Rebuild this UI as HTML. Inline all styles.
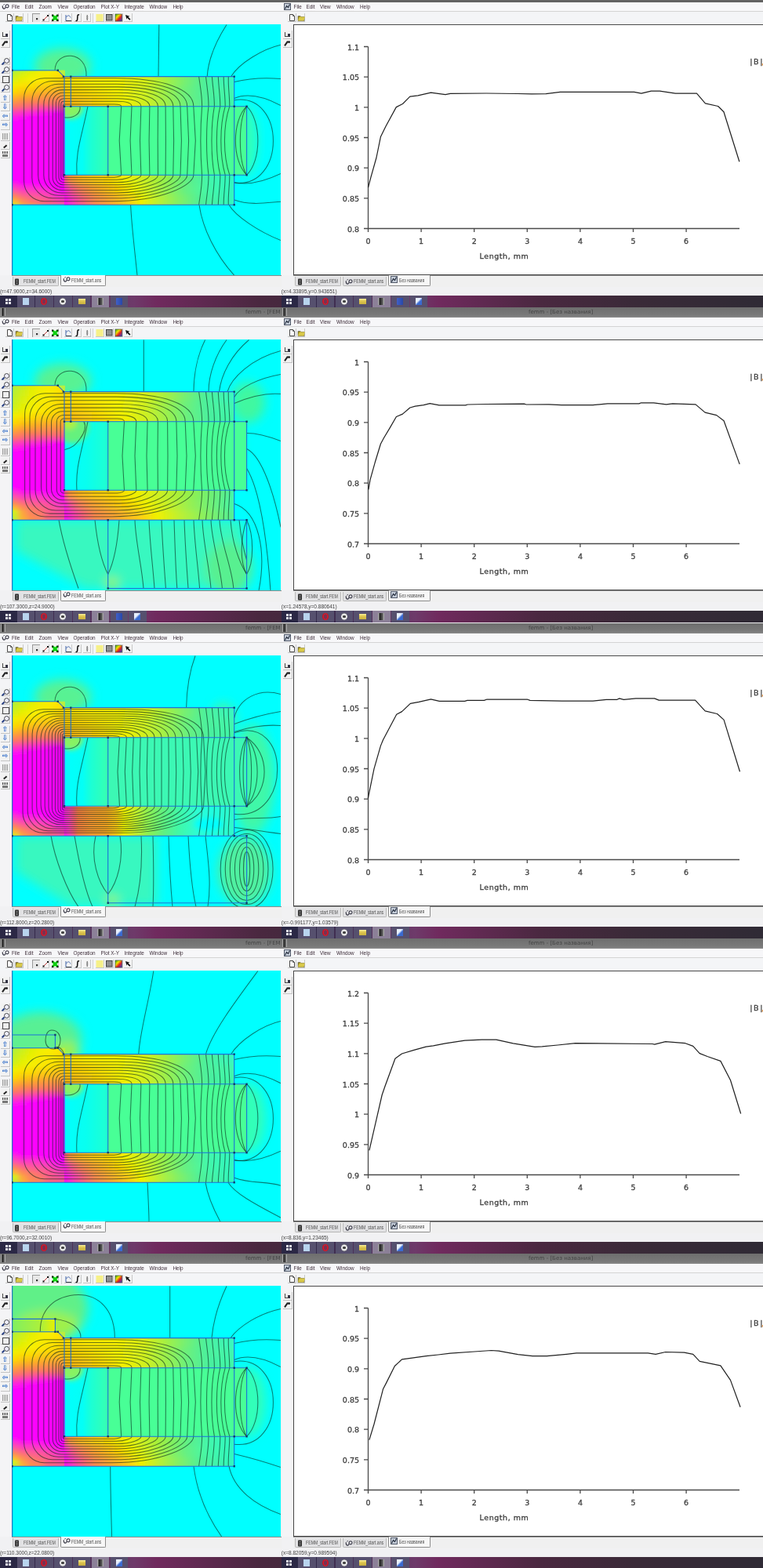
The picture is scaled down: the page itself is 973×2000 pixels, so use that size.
<!DOCTYPE html><html><head><meta charset="utf-8"><title>femm</title><style>*{box-sizing:border-box}
html,body{margin:0;padding:0}
body{width:973px;height:2000px;overflow:hidden;position:relative;background:#f1f1f3;font-family:"Liberation Sans","DejaVu Sans",sans-serif}
.pn{position:absolute;left:0;width:973px;height:392px}
.pn>*{position:absolute}
.tt{left:0;width:973px;height:12.5px;background:linear-gradient(#6e6e6e,#7a7a7a 80%,#8a8a8a)}
.ttx{height:12.5px;font:7px/12.5px "DejaVu Sans",sans-serif;color:#444;white-space:nowrap}
.tti{width:6px;height:10px;background:linear-gradient(90deg,#ddd,#222 30%,#555 70%,#ccc)}
.mb{top:2.5px;height:12px;background:#f7f7f9;border-bottom:1.3px solid #d4d4d4}
.mb span{position:absolute;top:0;font:6.4px/11.5px "Liberation Sans",sans-serif;color:#3c2c38;white-space:nowrap}
.mb .mi0{left:2px;top:1.5px;width:10px;height:9px}.mb svg,.tab svg{display:block}
.mb .mi1{left:3px;top:1.5px;width:9px;height:9px}
.tl{top:14.5px;height:16px;background:#f4f5f7}
.tl .bt{position:absolute;top:2px;width:10.5px;height:11.5px;border:1px solid #c8c8c8;border-width:0 1px 1px 0;background:#f4f4f4}
.tl .sep{position:absolute;top:2px;width:1px;height:12px;background:#d0d0d0}
.tl .bt svg{display:block}
.bt-sel{background:#e8e8e8 !important;border-width:1px 0 0 1px !important;border-color:#999 !important}
.vt{top:30.5px;height:320.5px;background:#f4f4f6}
.vt .vb{position:absolute;left:1px;width:11.5px;height:10.5px;border:1px solid #c4c4c4;border-width:0 1px 1px 0;background:#f2f2f2}
.vb:after,.vb:before{content:"";position:absolute}
.vb-v1:after{left:2px;top:2px;width:4px;height:5px;border-left:1px solid #444;border-bottom:1px solid #444}
.vb-v1:before{left:6px;top:4px;width:3px;height:4px;background:#334}
.vb-v2:after{left:3px;top:2px;width:2px;height:7px;background:#222;transform:rotate(35deg)}
.vb-v2:before{left:6px;top:1.5px;width:3px;height:3px;background:#222;border-radius:50%}
.vb-zin:after,.vb-zout:after,.vb-zwin:after{left:4px;top:1px;width:5px;height:5px;border:1.2px solid #444;border-radius:50%;background:#eef}
.vb-zin:before,.vb-zout:before,.vb-zwin:before{left:1px;top:7px;width:4px;height:1.8px;background:#223a80;transform:rotate(-45deg)}
.vb-zfit:after{left:2px;top:1.5px;width:7px;height:7px;border:1.2px solid #444;background:#eee}
.vb-up:after,.vb-dn:after,.vb-lf:after,.vb-rt:after{left:0;top:-1px;width:11px;text-align:center;font:bold 9px/11px "DejaVu Sans",sans-serif;color:#2a68c8}
.vb-up:after{content:"\21E7"}.vb-dn:after{content:"\21E9"}.vb-lf:after{content:"\21E6"}.vb-rt:after{content:"\21E8"}
.vb-grid:after{left:2px;top:1px;width:7px;height:8px;background:repeating-linear-gradient(90deg,#999 0 1px,transparent 1px 2px)}
.vb-pt:after{left:3px;top:5px;width:5px;height:1.5px;background:#222;transform:rotate(-40deg)}
.vb-cfg:after{left:2px;top:1.5px;width:7px;height:3px;background:repeating-linear-gradient(90deg,#444 0 1px,transparent 1px 2px)}
.vb-cfg:before{left:2px;top:5.5px;width:7px;height:3px;background:#777}
.fp{left:15px;top:30.5px;width:342.8px;height:320.5px;overflow:hidden}
.fp svg{display:block}
.gp{left:373.5px;top:30.5px;width:599.5px;height:320.3px;background:#fff;border-left:1.6px solid #454545;border-top:1.5px solid #4a4a4a;border-bottom:1.3px solid #454545;overflow:hidden}
.gp svg{position:absolute;left:-1px;top:-1px;display:block}
.gr text{font:9.5px "DejaVu Sans",sans-serif;fill:#404040;stroke:#404040;stroke-width:0.3px}
.gr .ax{fill:none;stroke:#4a4a4a;stroke-width:1.3}
.gr .cv{fill:none;stroke:#202020;stroke-width:1.2;stroke-linejoin:round}
.tabbar{top:351.2px;height:15px;background:#f0f0f0;border-top:1.4px solid #8c8c8c}
.tab{position:absolute;top:1px;height:12px;background:#e2e2e4;border:1px solid #b8b8b8;border-top:0;border-radius:0 0 2px 2px;font:6.5px/11px "Liberation Sans",sans-serif;color:#505050;white-space:nowrap;padding-left:13px}
.tab span{display:inline-block;transform:scaleX(.8);transform-origin:0 0}
.tab.act{background:#f7f7f7;top:-1.4px;height:14.5px;border-color:#8c8c8c;padding-top:1.5px}
.tab b{position:absolute;left:1.5px;top:1.5px;width:7px;height:8px}



.st{top:366px;height:11px;font:6.5px/12px "Liberation Sans",sans-serif;color:#404040;white-space:nowrap}
.tb{height:15px;background:linear-gradient(90deg,#2b2845 0,#2b2845 21px,#6e3a6a 170px,#702a5e 200px,#4a2840 330px,#3a2a38 450px,#2f2a35)}
.tbs{left:0;width:21px;height:15px;background:#2b2845}
.tbs i{position:absolute;width:3px;height:3px;background:#e8e8f0}
.tbs i:nth-child(1){left:6.5px;top:4px}.tbs i:nth-child(2){left:10.5px;top:4px}.tbs i:nth-child(3){left:6.5px;top:8px}.tbs i:nth-child(4){left:10.5px;top:8px}
.tbb{position:absolute;width:22.5px;height:15px;background:#56506e}
.tbb.hl{background:#8c8098}
.tbb b{position:absolute;left:7px;top:3px;width:8px;height:9px}
.ic-file{background:#b8d4ee}
.ic-opera{border-radius:50%;background:radial-gradient(ellipse 40% 55% at 50% 50%,#7a3050 60%,#e02030 68%,#c81020)}
.ic-media{border-radius:50%;background:radial-gradient(circle,#444 28%,#e8e8e8 33%,#e8e8e8 62%,#888 70%)}
.ic-folder{background:linear-gradient(#f8f0a0,#e0c850 40%,#c8b040);height:7px !important;top:4px !important;width:9px !important}
.ic-femm{background:linear-gradient(90deg,#ccc,#222 30%,#555 70%,#bbb)}
.ic-vs{background:linear-gradient(90deg,#4060c8,#2848a8);border-radius:1px}
.ic-doc{background:linear-gradient(135deg,#e8f0ff 40%,#3a6ad0 60%)}
</style></head><body><div class="pn" style="top:0px"><div class="tt" style="top:-10px;background:#626262"></div><div class="mb" style="left:0;width:358.5px"><span class="mi0"><svg width="10" height="9" viewBox="0 0 10 9"><path d="M1.2 3.2C1 6.5 3 8.2 4.6 6.4C5.6 5.2 4.4 3.2 5.8 2.2C7.2 1.2 9.2 2 9 4C8.8 6 6.6 6.3 6 5" fill="none" stroke="#3a3a48" stroke-width="1.2"/><path d="M2.6 2.4L3.6 1" stroke="#3a3a48" stroke-width="1"/></svg></span><span style="left:15px">File</span><span style="left:31.5px">Edit</span><span style="left:49.5px">Zoom</span><span style="left:73.5px">View</span><span style="left:93.5px">Operation</span><span style="left:128.5px">Plot X-Y</span><span style="left:158.5px">Integrate</span><span style="left:190.5px">Window</span><span style="left:220.5px">Help</span></div><div class="mb" style="left:358.5px;width:614.5px"><span class="mi1"><svg width="9" height="9" viewBox="0 0 9 9"><rect x="0.5" y="0.5" width="8" height="8" fill="#c8d0dc" stroke="#505868"/><path d="M1.5 7.5L3.5 3.5L5.5 5.5L7.5 1.5" fill="none" stroke="#283040" stroke-width="1.2"/></svg></span><span style="left:16px">File</span><span style="left:32px">Edit</span><span style="left:49.5px">View</span><span style="left:70.5px">Window</span><span style="left:100.5px">Help</span></div><div class="tl" style="left:0;width:358.5px"><b class="bt bt-new" style="left:7px"><svg width="10.5" height="11.5" viewBox="0 0 10.5 11.5"><path d="M2.5 1.5h4l2 2v6h-6z" fill="#fff" stroke="#333" stroke-width="0.9"/><path d="M6.5 1.5v2h2" fill="none" stroke="#333" stroke-width="0.7"/></svg></b><b class="bt bt-open" style="left:19px"><svg width="10.5" height="11.5" viewBox="0 0 10.5 11.5"><path d="M1 3.5h3l1 1h4v5H1z" fill="#a09018" stroke="#555" stroke-width="0.6"/><path d="M2 6l1.5-1.5h6.5L8.5 9.5H1z" fill="#d8c848"/></svg></b><b class="bt bt-sel" style="left:40.5px"><svg width="10.5" height="11.5" viewBox="0 0 10.5 11.5"><rect x="4" y="5" width="2.2" height="2.2" fill="#333"/></svg></b><b class="bt bt-line" style="left:52.5px"><svg width="10.5" height="11.5" viewBox="0 0 10.5 11.5"><path d="M2.5 8.5L8 3" stroke="#c04040" stroke-width="1"/><rect x="1.5" y="7.5" width="2" height="2" fill="#111"/><rect x="7" y="2" width="2" height="2" fill="#111"/></svg></b><b class="bt bt-gx" style="left:64.5px"><svg width="10.5" height="11.5" viewBox="0 0 10.5 11.5"><path d="M2 2.5L8.5 9M8.5 2.5L2 9" stroke="#10d010" stroke-width="3"/><rect x="1" y="1.5" width="2" height="2" fill="#111"/><rect x="7.5" y="1.5" width="2" height="2" fill="#111"/><rect x="1" y="8" width="2" height="2" fill="#111"/><rect x="7.5" y="8" width="2" height="2" fill="#111"/></svg></b><b class="bt bt-c1" style="left:81.5px"><svg width="10.5" height="11.5" viewBox="0 0 10.5 11.5"><path d="M2 2v7.5h7" fill="none" stroke="#2850a0" stroke-width="0.9"/><path d="M2.5 5c2-3 4-3 5.5 0.5" fill="none" stroke="#2850a0" stroke-width="0.8"/><path d="M2 9.5h7" stroke="#333" stroke-width="0.8"/></svg></b><b class="bt bt-int" style="left:93.5px"><svg width="10.5" height="11.5" viewBox="0 0 10.5 11.5"><path d="M7 2.3C6 1.4 5 2 4.9 3.5L4.6 8C4.5 9.5 3.5 10 2.6 9.2" fill="none" stroke="#111" stroke-width="1.5"/></svg></b><b class="bt bt-c3" style="left:105.5px"><svg width="10.5" height="11.5" viewBox="0 0 10.5 11.5"><path d="M5.2 2v7" stroke="#555" stroke-width="1"/><path d="M4 4.5h2.4M4 6.5h2.4" stroke="#888" stroke-width="0.8"/></svg></b><b class="bt bt-yel" style="left:122px"><svg width="10.5" height="11.5" viewBox="0 0 10.5 11.5"><rect x="0.5" y="1" width="9" height="9" fill="#f6f088"/></svg></b><b class="bt bt-gry" style="left:134px"><svg width="10.5" height="11.5" viewBox="0 0 10.5 11.5"><rect x="1.5" y="1.5" width="7.5" height="7.5" fill="#9a9a9a" stroke="#333" stroke-width="0.9"/><path d="M2.5 3.5h5.5M2.5 5.5h5.5M2.5 7.5h5.5" stroke="#777" stroke-width="0.6"/></svg></b><b class="bt bt-rbw" style="left:146px"><svg width="10.5" height="11.5" viewBox="0 0 10.5 11.5"><defs><linearGradient id="rbwg" x1="0" y1="0" x2="1" y2="1"><stop offset="0" stop-color="#20b020"/><stop offset="0.35" stop-color="#f0e000"/><stop offset="0.6" stop-color="#e02020"/><stop offset="1" stop-color="#2040e0"/></linearGradient></defs><rect x="1" y="1" width="8.5" height="9" fill="url(#rbwg)" stroke="#333" stroke-width="0.6"/></svg></b><b class="bt bt-arr" style="left:158px"><svg width="10.5" height="11.5" viewBox="0 0 10.5 11.5"><path d="M2 2l5.5 1.8-2 0.6 3 3-1.3 1.3-3-3-0.6 2z" fill="#111"/></svg></b><i class="sep" style="left:35px"></i><i class="sep" style="left:78px"></i><i class="sep" style="left:118px"></i></div><div class="tl" style="left:358.5px;width:614.5px"><b class="bt" style="left:8.5px"><svg width="10.5" height="11.5" viewBox="0 0 10.5 11.5"><path d="M2.5 1.5h4l2 2v6h-6z" fill="#fff" stroke="#333" stroke-width="0.9"/><path d="M6.5 1.5v2h2" fill="none" stroke="#333" stroke-width="0.7"/></svg></b><b class="bt" style="left:20px"><svg width="10.5" height="11.5" viewBox="0 0 10.5 11.5"><path d="M1 3.5h3l1 1h4v5H1z" fill="#a09018" stroke="#555" stroke-width="0.6"/><path d="M2 6l1.5-1.5h6.5L8.5 9.5H1z" fill="#d8c848"/></svg></b></div><div class="vt" style="left:0;width:15px"><b class="vb vb-v1" style="top:8.5px"></b><b class="vb vb-v2" style="top:19.5px"></b><b class="vb vb-zin" style="top:42px"></b><b class="vb vb-zout" style="top:53px"></b><b class="vb vb-zfit" style="top:64.5px"></b><b class="vb vb-zwin" style="top:76.5px"></b><b class="vb vb-up" style="top:90px"></b><b class="vb vb-dn" style="top:101px"></b><b class="vb vb-lf" style="top:113px"></b><b class="vb vb-rt" style="top:124.5px"></b><b class="vb vb-grid" style="top:138.5px"></b><b class="vb vb-pt" style="top:150px"></b><b class="vb vb-cfg" style="top:161px"></b></div><div class="vt" style="left:358.5px;width:15.5px"><b class="vb vb-v1" style="top:8.5px;left:2.5px"></b><b class="vb vb-v2" style="top:19.5px;left:2.5px"></b></div><div class="fp"><svg width="343.5" height="320.5" viewBox="15 30.5 343.5 320.5"><defs><filter id="bl0" x="-50%" y="-50%" width="200%" height="200%"><feGaussianBlur stdDeviation="7"/></filter><filter id="bm0" x="-50%" y="-50%" width="200%" height="200%"><feGaussianBlur stdDeviation="12"/></filter><filter id="bs0" x="-50%" y="-50%" width="200%" height="200%"><feGaussianBlur stdDeviation="3"/></filter><linearGradient id="lb0_0" gradientUnits="userSpaceOnUse" x1="0" y1="89.3" x2="0" y2="260.7"><stop offset="0.0000" stop-color="#b0f038"/><stop offset="0.0461" stop-color="#d0f018"/><stop offset="0.0998" stop-color="#f0f000"/><stop offset="0.1604" stop-color="#ffd800"/><stop offset="0.2141" stop-color="#ffa830"/><stop offset="0.2655" stop-color="#ff7860"/><stop offset="0.3057" stop-color="#ff48a8"/><stop offset="0.3501" stop-color="#ff18e8"/><stop offset="0.3845" stop-color="#ff00ff"/><stop offset="0.8151" stop-color="#ff00ff"/><stop offset="0.8559" stop-color="#ff30d0"/><stop offset="0.8967" stop-color="#ff58a0"/><stop offset="0.9376" stop-color="#ff8858"/><stop offset="0.9726" stop-color="#ffb830"/><stop offset="1.0000" stop-color="#d8f018"/><stop offset="1.0000" stop-color="#b8f038"/></linearGradient><linearGradient id="lb0_1" gradientUnits="userSpaceOnUse" x1="0" y1="89.3" x2="0" y2="260.7"><stop offset="0.0000" stop-color="#c8f020"/><stop offset="0.0525" stop-color="#e8f000"/><stop offset="0.1132" stop-color="#ffe000"/><stop offset="0.1669" stop-color="#ffc010"/><stop offset="0.2205" stop-color="#ff9040"/><stop offset="0.2707" stop-color="#ff6878"/><stop offset="0.3104" stop-color="#ff38c0"/><stop offset="0.3501" stop-color="#ff10f0"/><stop offset="0.3798" stop-color="#ff00ff"/><stop offset="0.8326" stop-color="#ff00ff"/><stop offset="0.8792" stop-color="#ff30d0"/><stop offset="0.9201" stop-color="#ff5898"/><stop offset="0.9609" stop-color="#ff8060"/><stop offset="1.0000" stop-color="#ffa040"/><stop offset="1.0000" stop-color="#ffb030"/></linearGradient><linearGradient id="lb0_2" gradientUnits="userSpaceOnUse" x1="0" y1="89.3" x2="0" y2="260.7"><stop offset="0.0000" stop-color="#e0f000"/><stop offset="0.0665" stop-color="#f8f000"/><stop offset="0.1266" stop-color="#ffd800"/><stop offset="0.1803" stop-color="#ffb020"/><stop offset="0.2340" stop-color="#ff8050"/><stop offset="0.2760" stop-color="#ff5890"/><stop offset="0.3151" stop-color="#ff28d8"/><stop offset="0.3501" stop-color="#ff00ff"/><stop offset="0.8326" stop-color="#ff00ff"/><stop offset="0.8792" stop-color="#ff30d0"/><stop offset="0.9317" stop-color="#ff5898"/><stop offset="0.9784" stop-color="#ff7868"/><stop offset="1.0000" stop-color="#ff9048"/></linearGradient><linearGradient id="lb0_3" gradientUnits="userSpaceOnUse" x1="0" y1="89.3" x2="0" y2="260.7"><stop offset="0.0000" stop-color="#f0f000"/><stop offset="0.0729" stop-color="#ffe800"/><stop offset="0.1336" stop-color="#ffc810"/><stop offset="0.1867" stop-color="#ffa030"/><stop offset="0.2410" stop-color="#ff7860"/><stop offset="0.2806" stop-color="#ff48a8"/><stop offset="0.3203" stop-color="#ff18e8"/><stop offset="0.3501" stop-color="#ff00ff"/><stop offset="0.8384" stop-color="#ff00ff"/><stop offset="0.8851" stop-color="#ff30d0"/><stop offset="0.9434" stop-color="#ff5898"/><stop offset="0.9901" stop-color="#ff7070"/><stop offset="1.0000" stop-color="#ff8858"/></linearGradient><linearGradient id="lb0_4" gradientUnits="userSpaceOnUse" x1="0" y1="89.3" x2="0" y2="260.7"><stop offset="0.0000" stop-color="#f8f000"/><stop offset="0.0799" stop-color="#ffe000"/><stop offset="0.1400" stop-color="#ffc010"/><stop offset="0.1937" stop-color="#ff9840"/><stop offset="0.2474" stop-color="#ff7068"/><stop offset="0.2853" stop-color="#ff40b8"/><stop offset="0.3203" stop-color="#ff10f0"/><stop offset="0.3448" stop-color="#ff00ff"/><stop offset="0.8559" stop-color="#ff00ff"/><stop offset="0.9026" stop-color="#ff30d0"/><stop offset="0.9551" stop-color="#ff5098"/><stop offset="1.0000" stop-color="#ff6878"/></linearGradient><linearGradient id="lb0_5" gradientUnits="userSpaceOnUse" x1="0" y1="89.3" x2="0" y2="260.7"><stop offset="0.0000" stop-color="#ffe800"/><stop offset="0.0729" stop-color="#ffd800"/><stop offset="0.1400" stop-color="#ffb820"/><stop offset="0.2007" stop-color="#ff9040"/><stop offset="0.2538" stop-color="#ff6878"/><stop offset="0.2905" stop-color="#ff38c8"/><stop offset="0.3203" stop-color="#ff00ff"/><stop offset="0.8734" stop-color="#ff00ff"/><stop offset="0.9201" stop-color="#ff28d8"/><stop offset="0.9726" stop-color="#ff4aa8"/><stop offset="1.0000" stop-color="#ff6080"/></linearGradient><linearGradient id="lb0_6" gradientUnits="userSpaceOnUse" x1="0" y1="89.3" x2="0" y2="260.7"><stop offset="0.0000" stop-color="#ffe000"/><stop offset="0.0729" stop-color="#ffd000"/><stop offset="0.1534" stop-color="#ffb020"/><stop offset="0.2141" stop-color="#ff8850"/><stop offset="0.2608" stop-color="#ff6080"/><stop offset="0.2952" stop-color="#ff30d0"/><stop offset="0.3203" stop-color="#ff00ff"/><stop offset="0.8851" stop-color="#ff00ff"/><stop offset="0.9317" stop-color="#ff28d8"/><stop offset="0.9784" stop-color="#ff40b8"/><stop offset="1.0000" stop-color="#ff5890"/></linearGradient><linearGradient id="ta0_0" gradientUnits="userSpaceOnUse" x1="80.8" y1="0" x2="298.7" y2="0"><stop offset="0.0055" stop-color="#ffd800"/><stop offset="0.1340" stop-color="#ffe800"/><stop offset="0.3176" stop-color="#f8f000"/><stop offset="0.4782" stop-color="#d8f018"/><stop offset="0.5929" stop-color="#a8f040"/><stop offset="0.7077" stop-color="#78f070"/><stop offset="0.8224" stop-color="#50f098"/><stop offset="1.0000" stop-color="#38f8c0"/></linearGradient><linearGradient id="ta0_1" gradientUnits="userSpaceOnUse" x1="80.8" y1="0" x2="298.7" y2="0"><stop offset="0.0055" stop-color="#ffc800"/><stop offset="0.1340" stop-color="#ffd800"/><stop offset="0.3176" stop-color="#f8f000"/><stop offset="0.4782" stop-color="#d0f020"/><stop offset="0.5929" stop-color="#a0f048"/><stop offset="0.7077" stop-color="#70f078"/><stop offset="0.8224" stop-color="#50f098"/><stop offset="1.0000" stop-color="#40f8b0"/></linearGradient><linearGradient id="ta0_2" gradientUnits="userSpaceOnUse" x1="80.8" y1="0" x2="298.7" y2="0"><stop offset="0.0055" stop-color="#ffb010"/><stop offset="0.0881" stop-color="#ffc010"/><stop offset="0.2258" stop-color="#ffd800"/><stop offset="0.3635" stop-color="#f0f000"/><stop offset="0.5011" stop-color="#c8f028"/><stop offset="0.6159" stop-color="#98f050"/><stop offset="0.7306" stop-color="#68f080"/><stop offset="0.8683" stop-color="#48f0a0"/><stop offset="1.0000" stop-color="#40f8a8"/></linearGradient><linearGradient id="ba0" gradientUnits="userSpaceOnUse" x1="82" y1="0" x2="298.7" y2="0"><stop offset="0.0000" stop-color="#ff20e0"/><stop offset="0.0231" stop-color="#ff40b8"/><stop offset="0.0554" stop-color="#ff6080"/><stop offset="0.0969" stop-color="#ff8050"/><stop offset="0.1523" stop-color="#ffa030"/><stop offset="0.1984" stop-color="#ffb820"/><stop offset="0.2446" stop-color="#ffcc10"/><stop offset="0.3138" stop-color="#ffe000"/><stop offset="0.3830" stop-color="#f0f000"/><stop offset="0.4338" stop-color="#d0f020"/><stop offset="0.5215" stop-color="#a8f038"/><stop offset="0.6138" stop-color="#80f060"/><stop offset="0.7291" stop-color="#58f090"/><stop offset="0.8676" stop-color="#40f8b0"/><stop offset="1.0000" stop-color="#30f8c0"/></linearGradient><linearGradient id="bs0_0" gradientUnits="userSpaceOnUse" x1="82" y1="0" x2="298.7" y2="0"><stop offset="0.0000" stop-color="#ff50a0"/><stop offset="0.0277" stop-color="#ff9040"/><stop offset="0.0831" stop-color="#ffb020"/><stop offset="0.1754" stop-color="#ffc810"/><stop offset="0.2677" stop-color="#ffd800"/><stop offset="0.3599" stop-color="#f0f000"/><stop offset="0.4522" stop-color="#d0f020"/><stop offset="0.5445" stop-color="#a8f038"/><stop offset="0.6368" stop-color="#80f060"/><stop offset="0.7522" stop-color="#58f090"/><stop offset="0.8676" stop-color="#40f8b0"/><stop offset="1.0000" stop-color="#30f8c0"/></linearGradient><linearGradient id="bs0_1" gradientUnits="userSpaceOnUse" x1="82" y1="0" x2="298.7" y2="0"><stop offset="0.0000" stop-color="#ff20e0"/><stop offset="0.0369" stop-color="#ff5098"/><stop offset="0.0831" stop-color="#ff7860"/><stop offset="0.1523" stop-color="#ff9838"/><stop offset="0.2215" stop-color="#ffb020"/><stop offset="0.3138" stop-color="#ffd000"/><stop offset="0.4061" stop-color="#f0f000"/><stop offset="0.4984" stop-color="#c8f028"/><stop offset="0.5907" stop-color="#98f050"/><stop offset="0.7060" stop-color="#68f080"/><stop offset="0.8445" stop-color="#44f8a8"/><stop offset="1.0000" stop-color="#30f8c0"/></linearGradient><linearGradient id="bs0_2" gradientUnits="userSpaceOnUse" x1="82" y1="0" x2="298.7" y2="0"><stop offset="0.0000" stop-color="#ff10f0"/><stop offset="0.0461" stop-color="#ff38c0"/><stop offset="0.1061" stop-color="#ff6080"/><stop offset="0.1754" stop-color="#ff8850"/><stop offset="0.2677" stop-color="#ffa830"/><stop offset="0.3599" stop-color="#ffc818"/><stop offset="0.4522" stop-color="#f0f000"/><stop offset="0.5445" stop-color="#c0f030"/><stop offset="0.6599" stop-color="#88f060"/><stop offset="0.7983" stop-color="#50f098"/><stop offset="1.0000" stop-color="#30f8c0"/></linearGradient><clipPath id="cba0"><rect x="82" y="222.7" width="216.7" height="38"/></clipPath><filter id="hb0" x="-20%" y="-20%" width="140%" height="140%"><feGaussianBlur stdDeviation="3.5 0"/></filter><filter id="vb0" x="-20%" y="-50%" width="140%" height="200%"><feGaussianBlur stdDeviation="0 3"/></filter><clipPath id="clb0"><rect x="15.5" y="89.3" width="67.1" height="171.4"/></clipPath><clipPath id="cta0"><rect x="80.8" y="97.1" width="217.9" height="38.1"/></clipPath><clipPath id="cvc0"><rect x="82" y="135.2" width="232.6" height="87.5"/></clipPath><linearGradient id="cv0" gradientUnits="userSpaceOnUse" x1="82" y1="0" x2="137.7" y2="0"><stop offset="0" stop-color="#00ffff"/><stop offset="0.42" stop-color="#04fff6"/><stop offset="0.62" stop-color="#1cffd4"/><stop offset="1" stop-color="#38ffb0"/></linearGradient></defs><rect x="0" y="0" width="400" height="400" fill="#00ffff"/><g filter="url(#bl0)"><ellipse cx="80" cy="83.3" rx="36" ry="22" fill="#68f080" opacity="0.85"/><rect x="118" y="141.2" width="190" height="75.5" fill="#40ffa8"/><ellipse cx="315" cy="178.9" rx="13" ry="44" fill="#38ffb0" opacity="0.9"/></g><rect x="82" y="135.2" width="55.7" height="87.5" fill="url(#cv0)"/><rect x="137.7" y="135.2" width="176.9" height="87.5" fill="#48ff96"/><g clip-path="url(#cvc0)"><g filter="url(#bs0)"><ellipse cx="90" cy="137.2" rx="16" ry="14" fill="#a0f048" opacity="0.85"/></g></g><g clip-path="url(#clb0)"><g filter="url(#hb0)"><rect x="3.5" y="89.3" width="20.3" height="171.4" fill="url(#lb0_0)"/><rect x="23.5" y="89.3" width="11.3" height="171.4" fill="url(#lb0_1)"/><rect x="34.5" y="89.3" width="11.3" height="171.4" fill="url(#lb0_2)"/><rect x="45.5" y="89.3" width="11.3" height="171.4" fill="url(#lb0_3)"/><rect x="56.5" y="89.3" width="11.3" height="171.4" fill="url(#lb0_4)"/><rect x="67.5" y="89.3" width="9.3" height="171.4" fill="url(#lb0_5)"/><rect x="76.5" y="89.3" width="17.8" height="171.4" fill="url(#lb0_6)"/></g></g><path d="M73.8 89.3L82.6 89.3L82.6 96.6Z" fill="#b8f040"/><g clip-path="url(#cba0)"><g filter="url(#vb0)"><rect x="82" y="214.7" width="216.7" height="20.3" fill="url(#bs0_0)"/><rect x="82" y="234.7" width="216.7" height="13.3" fill="url(#bs0_1)"/><rect x="82" y="247.7" width="216.7" height="21.3" fill="url(#bs0_2)"/></g></g><g clip-path="url(#cta0)"><g filter="url(#vb0)"><rect x="80.8" y="89.1" width="217.9" height="21.2" fill="url(#ta0_0)"/><rect x="80.8" y="110" width="217.9" height="13.3" fill="url(#ta0_1)"/><rect x="80.8" y="123" width="217.9" height="20.5" fill="url(#ta0_2)"/></g></g><g fill="none" stroke="#06261a" stroke-opacity="0.6" stroke-width="1.05"><path d="M152.2 178.9L154.7 135.2C154.7 133.5 151.3 132.4 145.7 132.4L82.3 132.4C81.2 132.4 80.3 133.3 80.3 134.4L80.3 223.7C80.3 224.8 81.2 225.7 82.3 225.7L145.7 225.7C151.3 225.7 154.7 223.8 154.7 222.7Z"/><path d="M166.1 178.9L168 135.2C168 131.2 160.7 128.8 148.8 128.8L81.4 128.8C79.4 128.8 77.8 130.4 77.8 132.4L77.8 225.2C77.8 227.2 79.4 228.8 81.4 228.8L148.5 228.8C160.6 228.8 168 225 168 222.7Z"/><path d="M178.5 178.9L179.9 135.2C179.9 129 168.7 125.2 150.4 125.2L81 125.2C77.7 125.2 75 127.9 75 131.2L75 226.1C75 229.3 77.7 232 81 232L149.8 232C168.4 232 179.9 226.2 179.9 222.7Z"/><path d="M190.1 178.9L190.9 135.2C190.9 126.7 175.9 121.5 151.3 121.5L80.4 121.5C75.4 121.5 71.4 125.5 71.4 130.5L71.4 226.2C71.4 231.2 75.4 235.2 80.4 235.2L150.3 235.2C175.5 235.2 190.9 227.4 190.9 222.7Z"/><path d="M201.2 178.9L201.5 135.2C201.5 124.4 182.5 117.8 151.6 117.8L79.8 117.8C72.8 117.8 67.2 123.4 67.2 130.4L67.2 225.9C67.2 232.9 72.8 238.5 79.8 238.5L150.3 238.5C182 238.5 201.5 228.7 201.5 222.7Z"/><path d="M211.4 178.9L211.1 135.2C211.1 122.1 188.3 114.1 151 114.1L79 114.1C69.7 114.1 62.2 121.6 62.2 130.9L62.2 225.2C62.2 234.5 69.7 242 79 242L149.3 242C187.6 242 211.1 230 211.1 222.7Z"/><path d="M221.6 178.9L220.8 135.2C220.8 119.8 194 110.4 150.4 110.4L78.1 110.4C65.8 110.4 55.8 120.4 55.8 132.7L55.8 223.1C55.8 235.4 65.8 245.4 78.1 245.4L148.4 245.4C193.3 245.4 220.8 231.3 220.8 222.7Z"/><path d="M231.4 178.9L230 135.2C230 117.5 199.4 106.7 149.5 106.7L74.6 106.7C60.2 106.7 48.6 118.3 48.6 132.7L48.6 222.8C48.6 237.2 60.2 248.8 74.6 248.8L147.1 248.8C198.5 248.8 230 232.6 230 222.7Z"/><path d="M240.6 178.9L238.7 135.2C238.7 115.2 204.2 103 147.9 103L66.8 103C52.4 103 40.8 114.6 40.8 129L40.8 226.3C40.8 240.7 52.4 252.3 66.8 252.3L145.2 252.3C203.1 252.3 238.7 233.9 238.7 222.7Z"/><path d="M249.3 178.9L246.8 135.2C246.8 112.9 208.4 99.3 145.8 99.3L56.5 99.3C42.1 99.3 30.5 110.9 30.5 125.3L30.5 230.2C30.5 244.6 42.1 256.2 56.5 256.2L142.8 256.2C207.3 256.2 246.8 235.4 246.8 222.7Z"/><path d="M253.6 97.1C255.6 112.1 257.6 120.2 257.6 135.2C255.6 160.2 255.6 197.7 257.6 222.7C257.6 237.7 255.6 245.7 253.6 260.7"/><path d="M262.5 97.1C264 112.1 266 120.2 266 135.2C262.7 160.2 262.7 197.7 266 222.7C266 237.7 264 245.7 262.5 260.7"/><path d="M270.4 97.1C271.4 112.1 273.4 120.2 273.4 135.2C268.8 160.2 268.8 197.7 273.4 222.7C273.4 237.7 271.4 245.7 270.4 260.7"/><path d="M278.3 97.1C278.8 112.1 280.8 120.2 280.8 135.2C274.9 160.2 274.9 197.7 280.8 222.7C280.8 237.7 278.8 245.7 278.3 260.7"/><path d="M285.2 97.1C285.2 112.1 287.2 120.2 287.2 135.2C280 160.2 280 197.7 287.2 222.7C287.2 237.7 285.2 245.7 285.2 260.7"/><path d="M291.3 97.1C290.8 112.1 292.8 120.2 292.8 135.2C284.3 160.2 284.3 197.7 292.8 222.7C292.8 237.7 290.8 245.7 291.3 260.7"/><path d="M70 89.3C70 63.3 112 63.3 110 97.1"/><path d="M82 149.2C96 151.2 103 143.2 102 135.2"/><path d="M112 135.2C104 175.2 96 192.7 98 222.7"/><path d="M202.8 31L202 97.1"/><path d="M289 31C280 45 266 70 264.2 97.1"/><path d="M358 56.7C335 62 305 80 294.7 97.1"/><path d="M358 100C335 98 315 100 298.7 104"/><path d="M298.7 125C315 118 335 122 358 134"/><path d="M166.6 260.7C168 290 172 320 175 351"/><path d="M254 260.7C258 290 275 325 299 351"/><path d="M292 260.7C300 275 330 295 358 306"/><path d="M298.7 254.4C320 262 340 258 358 256.7"/><path d="M298.7 232C315 236 335 232 358 221"/><path d="M314.6 135.2C333.6 153.2 333.6 204.7 314.6 222.7"/><path d="M314.6 135.2C303.6 153.2 303.6 204.7 314.6 222.7"/><path d="M314.6 135.2C295.6 153.2 295.6 204.7 314.6 222.7"/><path d="M298.7 127.2C365 117.2 365 240.7 298.7 232.7"/></g><path d="M15.5 89.3H73.8M73.8 89.3L80.8 96.3M80.8 97.1H298.7V260.7M82 97.1V222.7M90.3 97.1V135.2M82 135.2H314.6M82 222.7H314.6M15.5 260.7H298.7M137.7 135.2V222.7M314.6 135.2V222.7" fill="none" stroke="#1c70d8" stroke-width="1.1"/><path d="M15.6 30V352" stroke="#1a70c0" stroke-width="1.3" opacity="0.9"/><path d="M72.6 88.1h2.4v2.4h-2.4ZM79.6 95.9h2.4v2.4h-2.4ZM89.1 95.9h2.4v2.4h-2.4ZM89.1 134h2.4v2.4h-2.4ZM80.8 134h2.4v2.4h-2.4ZM136.5 134h2.4v2.4h-2.4ZM136.5 221.5h2.4v2.4h-2.4ZM80.8 221.5h2.4v2.4h-2.4ZM297.5 95.9h2.4v2.4h-2.4ZM297.5 134h2.4v2.4h-2.4ZM313.4 134h2.4v2.4h-2.4ZM313.4 221.5h2.4v2.4h-2.4ZM297.5 221.5h2.4v2.4h-2.4ZM297.5 259.5h2.4v2.4h-2.4ZM14.3 88.1h2.4v2.4h-2.4ZM14.3 259.5h2.4v2.4h-2.4Z" fill="#103058" opacity="0.85"/></svg></div><div class="gp"><svg class="gr" width="599" height="320" viewBox="374 31 599 320"><path d="M469.5 59.5V291.52H943" class="ax"/><path d="M464 59.5H469.5M464 98.17H469.5M464 136.84H469.5M464 175.51H469.5M464 214.18H469.5M464 252.85H469.5M464 291.52H469.5M469.5 291.52V296.02M537.1 291.52V296.02M604.7 291.52V296.02M672.3 291.52V296.02M739.9 291.52V296.02M807.5 291.52V296.02M875.1 291.52V296.02" class="ax"/><text x="458" y="63.7" text-anchor="end">1.1</text><text x="458" y="102.37" text-anchor="end">1.05</text><text x="458" y="141.04" text-anchor="end">1</text><text x="458" y="179.71" text-anchor="end">0.95</text><text x="458" y="218.38" text-anchor="end">0.9</text><text x="458" y="257.05" text-anchor="end">0.85</text><text x="458" y="295.72" text-anchor="end">0.8</text><text x="469.5" y="310.82" text-anchor="middle">0</text><text x="537.1" y="310.82" text-anchor="middle">1</text><text x="604.7" y="310.82" text-anchor="middle">2</text><text x="672.3" y="310.82" text-anchor="middle">3</text><text x="739.9" y="310.82" text-anchor="middle">4</text><text x="807.5" y="310.82" text-anchor="middle">5</text><text x="875.1" y="310.82" text-anchor="middle">6</text><text x="643" y="329.5" text-anchor="middle" letter-spacing="0.55">Length, mm</text><text x="956.3" y="81.6" letter-spacing="1.6">|B|</text><rect x="971.6" y="81" width="1.6" height="2.6" fill="#e0a060"/><polyline points="469.5,239.1 473,225.8 480,201 485.4,174.6 491.9,161.3 505.3,136.6 513.5,132.5 522.8,123.2 533,121.8 549.5,118.1 568,120.6 574.2,119.3 620,119 660,119.5 678,119.9 696.2,119.6 714.3,117.3 808.7,117.3 817.8,119.1 830.4,116.2 841.3,116.2 861.3,119.1 888.5,119.1 899.4,131.8 915.7,135.5 923,142.7 942.9,206.2" class="cv"/></svg></div><div class="tabbar" style="left:15px;width:343.5px"><div class="tab" style="left:0.5px;width:59px"><b class="ti-fem"><svg width="7" height="9" viewBox="0 0 7 9"><rect x="1" y="0.5" width="5" height="8" rx="1" fill="#2a2a2a"/><path d="M2 2.5h3M2 4.5h3M2 6.5h3" stroke="#999" stroke-width="0.8"/></svg></b><span>FEMM_start.FEM</span></div><div class="tab act" style="left:62px;width:58px"><b class="ti-ans"><svg width="10" height="9" viewBox="0 0 10 9"><path d="M1.2 3.2C1 6.5 3 8.2 4.6 6.4C5.6 5.2 4.4 3.2 5.8 2.2C7.2 1.2 9.2 2 9 4C8.8 6 6.6 6.3 6 5" fill="none" stroke="#3a3a48" stroke-width="1.2"/><path d="M2.6 2.4L3.6 1" stroke="#3a3a48" stroke-width="1"/></svg></b><span>FEMM_start.ans</span></div></div><div class="tabbar" style="left:374px;width:599px"><div class="tab" style="left:2px;width:59px"><b class="ti-fem"><svg width="7" height="9" viewBox="0 0 7 9"><rect x="1" y="0.5" width="5" height="8" rx="1" fill="#2a2a2a"/><path d="M2 2.5h3M2 4.5h3M2 6.5h3" stroke="#999" stroke-width="0.8"/></svg></b><span>FEMM_start.FEM</span></div><div class="tab" style="left:63px;width:56px"><b class="ti-ans"><svg width="10" height="9" viewBox="0 0 10 9"><path d="M1.2 3.2C1 6.5 3 8.2 4.6 6.4C5.6 5.2 4.4 3.2 5.8 2.2C7.2 1.2 9.2 2 9 4C8.8 6 6.6 6.3 6 5" fill="none" stroke="#3a3a48" stroke-width="1.2"/><path d="M2.6 2.4L3.6 1" stroke="#3a3a48" stroke-width="1"/></svg></b><span>FEMM_start.ans</span></div><div class="tab act" style="left:121px;width:54px"><b class="ti-xy"><svg width="9" height="9" viewBox="0 0 9 9"><rect x="0.5" y="0.5" width="8" height="8" fill="#c8d0dc" stroke="#505868"/><path d="M1.5 7.5L3.5 3.5L5.5 5.5L7.5 1.5" fill="none" stroke="#283040" stroke-width="1.2"/></svg></b><span>Без названия</span></div></div><div class="st" style="left:0px">(r=47.9000,z=34.6000)</div><div class="st" style="left:358.8px">(x=4.33895,y=0.943651)</div><div class="tb" style="left:0px;width:358.5px;top:377px"></div><div class="tbs" style="left:0px;top:377px"><i></i><i></i><i></i><i></i></div><div class="tbb" style="left:21.5px;top:377px"><b class="ic-file"></b></div><div class="tbb" style="left:45.3px;top:377px"><b class="ic-opera"></b></div><div class="tbb" style="left:69.1px;top:377px"><b class="ic-media"></b></div><div class="tbb" style="left:92.9px;top:377px"><b class="ic-folder"></b></div><div class="tbb hl" style="left:116.7px;top:377px"><b class="ic-femm"></b></div><div class="tbb" style="left:140.5px;top:377px"><b class="ic-vs"></b></div><div class="tb" style="left:358.5px;width:614.5px;top:377px"></div><div class="tbs" style="left:358.5px;top:377px"><i></i><i></i><i></i><i></i></div><div class="tbb" style="left:380px;top:377px"><b class="ic-file"></b></div><div class="tbb" style="left:403.8px;top:377px"><b class="ic-opera"></b></div><div class="tbb" style="left:427.6px;top:377px"><b class="ic-media"></b></div><div class="tbb" style="left:451.4px;top:377px"><b class="ic-folder"></b></div><div class="tbb hl" style="left:475.2px;top:377px"><b class="ic-femm"></b></div><div class="tbb" style="left:499px;top:377px"><b class="ic-vs"></b></div><div class="tbb" style="left:522.8px;top:377px"><b class="ic-doc"></b></div></div><div class="pn" style="top:402px"><div class="tt" style="top:-10px"></div><div class="ttx" style="left:313px;top:-10px">femm - [FEM</div><div class="ttx" style="left:674px;top:-10px">femm - [Без названия]</div><div class="tti" style="left:1px;top:-9px"></div><div class="tti" style="left:359.5px;top:-9px"></div><div class="mb" style="left:0;width:358.5px"><span class="mi0"><svg width="10" height="9" viewBox="0 0 10 9"><path d="M1.2 3.2C1 6.5 3 8.2 4.6 6.4C5.6 5.2 4.4 3.2 5.8 2.2C7.2 1.2 9.2 2 9 4C8.8 6 6.6 6.3 6 5" fill="none" stroke="#3a3a48" stroke-width="1.2"/><path d="M2.6 2.4L3.6 1" stroke="#3a3a48" stroke-width="1"/></svg></span><span style="left:15px">File</span><span style="left:31.5px">Edit</span><span style="left:49.5px">Zoom</span><span style="left:73.5px">View</span><span style="left:93.5px">Operation</span><span style="left:128.5px">Plot X-Y</span><span style="left:158.5px">Integrate</span><span style="left:190.5px">Window</span><span style="left:220.5px">Help</span></div><div class="mb" style="left:358.5px;width:614.5px"><span class="mi1"><svg width="9" height="9" viewBox="0 0 9 9"><rect x="0.5" y="0.5" width="8" height="8" fill="#c8d0dc" stroke="#505868"/><path d="M1.5 7.5L3.5 3.5L5.5 5.5L7.5 1.5" fill="none" stroke="#283040" stroke-width="1.2"/></svg></span><span style="left:16px">File</span><span style="left:32px">Edit</span><span style="left:49.5px">View</span><span style="left:70.5px">Window</span><span style="left:100.5px">Help</span></div><div class="tl" style="left:0;width:358.5px"><b class="bt bt-new" style="left:7px"><svg width="10.5" height="11.5" viewBox="0 0 10.5 11.5"><path d="M2.5 1.5h4l2 2v6h-6z" fill="#fff" stroke="#333" stroke-width="0.9"/><path d="M6.5 1.5v2h2" fill="none" stroke="#333" stroke-width="0.7"/></svg></b><b class="bt bt-open" style="left:19px"><svg width="10.5" height="11.5" viewBox="0 0 10.5 11.5"><path d="M1 3.5h3l1 1h4v5H1z" fill="#a09018" stroke="#555" stroke-width="0.6"/><path d="M2 6l1.5-1.5h6.5L8.5 9.5H1z" fill="#d8c848"/></svg></b><b class="bt bt-sel" style="left:40.5px"><svg width="10.5" height="11.5" viewBox="0 0 10.5 11.5"><rect x="4" y="5" width="2.2" height="2.2" fill="#333"/></svg></b><b class="bt bt-line" style="left:52.5px"><svg width="10.5" height="11.5" viewBox="0 0 10.5 11.5"><path d="M2.5 8.5L8 3" stroke="#c04040" stroke-width="1"/><rect x="1.5" y="7.5" width="2" height="2" fill="#111"/><rect x="7" y="2" width="2" height="2" fill="#111"/></svg></b><b class="bt bt-gx" style="left:64.5px"><svg width="10.5" height="11.5" viewBox="0 0 10.5 11.5"><path d="M2 2.5L8.5 9M8.5 2.5L2 9" stroke="#10d010" stroke-width="3"/><rect x="1" y="1.5" width="2" height="2" fill="#111"/><rect x="7.5" y="1.5" width="2" height="2" fill="#111"/><rect x="1" y="8" width="2" height="2" fill="#111"/><rect x="7.5" y="8" width="2" height="2" fill="#111"/></svg></b><b class="bt bt-c1" style="left:81.5px"><svg width="10.5" height="11.5" viewBox="0 0 10.5 11.5"><path d="M2 2v7.5h7" fill="none" stroke="#2850a0" stroke-width="0.9"/><path d="M2.5 5c2-3 4-3 5.5 0.5" fill="none" stroke="#2850a0" stroke-width="0.8"/><path d="M2 9.5h7" stroke="#333" stroke-width="0.8"/></svg></b><b class="bt bt-int" style="left:93.5px"><svg width="10.5" height="11.5" viewBox="0 0 10.5 11.5"><path d="M7 2.3C6 1.4 5 2 4.9 3.5L4.6 8C4.5 9.5 3.5 10 2.6 9.2" fill="none" stroke="#111" stroke-width="1.5"/></svg></b><b class="bt bt-c3" style="left:105.5px"><svg width="10.5" height="11.5" viewBox="0 0 10.5 11.5"><path d="M5.2 2v7" stroke="#555" stroke-width="1"/><path d="M4 4.5h2.4M4 6.5h2.4" stroke="#888" stroke-width="0.8"/></svg></b><b class="bt bt-yel" style="left:122px"><svg width="10.5" height="11.5" viewBox="0 0 10.5 11.5"><rect x="0.5" y="1" width="9" height="9" fill="#f6f088"/></svg></b><b class="bt bt-gry" style="left:134px"><svg width="10.5" height="11.5" viewBox="0 0 10.5 11.5"><rect x="1.5" y="1.5" width="7.5" height="7.5" fill="#9a9a9a" stroke="#333" stroke-width="0.9"/><path d="M2.5 3.5h5.5M2.5 5.5h5.5M2.5 7.5h5.5" stroke="#777" stroke-width="0.6"/></svg></b><b class="bt bt-rbw" style="left:146px"><svg width="10.5" height="11.5" viewBox="0 0 10.5 11.5"><defs><linearGradient id="rbwg" x1="0" y1="0" x2="1" y2="1"><stop offset="0" stop-color="#20b020"/><stop offset="0.35" stop-color="#f0e000"/><stop offset="0.6" stop-color="#e02020"/><stop offset="1" stop-color="#2040e0"/></linearGradient></defs><rect x="1" y="1" width="8.5" height="9" fill="url(#rbwg)" stroke="#333" stroke-width="0.6"/></svg></b><b class="bt bt-arr" style="left:158px"><svg width="10.5" height="11.5" viewBox="0 0 10.5 11.5"><path d="M2 2l5.5 1.8-2 0.6 3 3-1.3 1.3-3-3-0.6 2z" fill="#111"/></svg></b><i class="sep" style="left:35px"></i><i class="sep" style="left:78px"></i><i class="sep" style="left:118px"></i></div><div class="tl" style="left:358.5px;width:614.5px"><b class="bt" style="left:8.5px"><svg width="10.5" height="11.5" viewBox="0 0 10.5 11.5"><path d="M2.5 1.5h4l2 2v6h-6z" fill="#fff" stroke="#333" stroke-width="0.9"/><path d="M6.5 1.5v2h2" fill="none" stroke="#333" stroke-width="0.7"/></svg></b><b class="bt" style="left:20px"><svg width="10.5" height="11.5" viewBox="0 0 10.5 11.5"><path d="M1 3.5h3l1 1h4v5H1z" fill="#a09018" stroke="#555" stroke-width="0.6"/><path d="M2 6l1.5-1.5h6.5L8.5 9.5H1z" fill="#d8c848"/></svg></b></div><div class="vt" style="left:0;width:15px"><b class="vb vb-v1" style="top:8.5px"></b><b class="vb vb-v2" style="top:19.5px"></b><b class="vb vb-zin" style="top:42px"></b><b class="vb vb-zout" style="top:53px"></b><b class="vb vb-zfit" style="top:64.5px"></b><b class="vb vb-zwin" style="top:76.5px"></b><b class="vb vb-up" style="top:90px"></b><b class="vb vb-dn" style="top:101px"></b><b class="vb vb-lf" style="top:113px"></b><b class="vb vb-rt" style="top:124.5px"></b><b class="vb vb-grid" style="top:138.5px"></b><b class="vb vb-pt" style="top:150px"></b><b class="vb vb-cfg" style="top:161px"></b></div><div class="vt" style="left:358.5px;width:15.5px"><b class="vb vb-v1" style="top:8.5px;left:2.5px"></b><b class="vb vb-v2" style="top:19.5px;left:2.5px"></b></div><div class="fp"><svg width="343.5" height="320.5" viewBox="15 30.5 343.5 320.5"><defs><filter id="bl1" x="-50%" y="-50%" width="200%" height="200%"><feGaussianBlur stdDeviation="7"/></filter><filter id="bm1" x="-50%" y="-50%" width="200%" height="200%"><feGaussianBlur stdDeviation="12"/></filter><filter id="bs1" x="-50%" y="-50%" width="200%" height="200%"><feGaussianBlur stdDeviation="3"/></filter><linearGradient id="lb1_0" gradientUnits="userSpaceOnUse" x1="0" y1="89.3" x2="0" y2="260.7"><stop offset="0.0000" stop-color="#b0f038"/><stop offset="0.1628" stop-color="#d0f018"/><stop offset="0.2165" stop-color="#f0f000"/><stop offset="0.2771" stop-color="#ffd800"/><stop offset="0.3308" stop-color="#ffa830"/><stop offset="0.3821" stop-color="#ff7860"/><stop offset="0.4224" stop-color="#ff48a8"/><stop offset="0.4667" stop-color="#ff18e8"/><stop offset="0.5012" stop-color="#ff00ff"/><stop offset="0.7509" stop-color="#ff00ff"/><stop offset="0.7917" stop-color="#ff30d0"/><stop offset="0.8326" stop-color="#ff58a0"/><stop offset="0.8734" stop-color="#ff8858"/><stop offset="0.9084" stop-color="#ffb830"/><stop offset="0.9376" stop-color="#d8f018"/><stop offset="1.0000" stop-color="#b8f038"/></linearGradient><linearGradient id="lb1_1" gradientUnits="userSpaceOnUse" x1="0" y1="89.3" x2="0" y2="260.7"><stop offset="0.0000" stop-color="#c8f020"/><stop offset="0.1692" stop-color="#e8f000"/><stop offset="0.2299" stop-color="#ffe000"/><stop offset="0.2835" stop-color="#ffc010"/><stop offset="0.3372" stop-color="#ff9040"/><stop offset="0.3874" stop-color="#ff6878"/><stop offset="0.4271" stop-color="#ff38c0"/><stop offset="0.4667" stop-color="#ff10f0"/><stop offset="0.4965" stop-color="#ff00ff"/><stop offset="0.7684" stop-color="#ff00ff"/><stop offset="0.8151" stop-color="#ff30d0"/><stop offset="0.8559" stop-color="#ff5898"/><stop offset="0.8967" stop-color="#ff8060"/><stop offset="0.9376" stop-color="#ffa040"/><stop offset="1.0000" stop-color="#ffb030"/></linearGradient><linearGradient id="lb1_2" gradientUnits="userSpaceOnUse" x1="0" y1="89.3" x2="0" y2="260.7"><stop offset="0.0000" stop-color="#e0f000"/><stop offset="0.1832" stop-color="#f8f000"/><stop offset="0.2433" stop-color="#ffd800"/><stop offset="0.2970" stop-color="#ffb020"/><stop offset="0.3506" stop-color="#ff8050"/><stop offset="0.3926" stop-color="#ff5890"/><stop offset="0.4317" stop-color="#ff28d8"/><stop offset="0.4667" stop-color="#ff00ff"/><stop offset="0.7684" stop-color="#ff00ff"/><stop offset="0.8151" stop-color="#ff30d0"/><stop offset="0.8676" stop-color="#ff5898"/><stop offset="0.9142" stop-color="#ff7868"/><stop offset="1.0000" stop-color="#ff9048"/></linearGradient><linearGradient id="lb1_3" gradientUnits="userSpaceOnUse" x1="0" y1="89.3" x2="0" y2="260.7"><stop offset="0.0000" stop-color="#f0f000"/><stop offset="0.1896" stop-color="#ffe800"/><stop offset="0.2503" stop-color="#ffc810"/><stop offset="0.3034" stop-color="#ffa030"/><stop offset="0.3576" stop-color="#ff7860"/><stop offset="0.3973" stop-color="#ff48a8"/><stop offset="0.4370" stop-color="#ff18e8"/><stop offset="0.4667" stop-color="#ff00ff"/><stop offset="0.7742" stop-color="#ff00ff"/><stop offset="0.8209" stop-color="#ff30d0"/><stop offset="0.8792" stop-color="#ff5898"/><stop offset="0.9259" stop-color="#ff7070"/><stop offset="1.0000" stop-color="#ff8858"/></linearGradient><linearGradient id="lb1_4" gradientUnits="userSpaceOnUse" x1="0" y1="89.3" x2="0" y2="260.7"><stop offset="0.0000" stop-color="#f8f000"/><stop offset="0.1966" stop-color="#ffe000"/><stop offset="0.2567" stop-color="#ffc010"/><stop offset="0.3104" stop-color="#ff9840"/><stop offset="0.3641" stop-color="#ff7068"/><stop offset="0.4020" stop-color="#ff40b8"/><stop offset="0.4370" stop-color="#ff10f0"/><stop offset="0.4615" stop-color="#ff00ff"/><stop offset="0.7917" stop-color="#ff00ff"/><stop offset="0.8384" stop-color="#ff30d0"/><stop offset="0.8909" stop-color="#ff5098"/><stop offset="1.0000" stop-color="#ff6878"/></linearGradient><linearGradient id="lb1_5" gradientUnits="userSpaceOnUse" x1="0" y1="89.3" x2="0" y2="260.7"><stop offset="0.0000" stop-color="#ffe800"/><stop offset="0.1896" stop-color="#ffd800"/><stop offset="0.2567" stop-color="#ffb820"/><stop offset="0.3174" stop-color="#ff9040"/><stop offset="0.3705" stop-color="#ff6878"/><stop offset="0.4072" stop-color="#ff38c8"/><stop offset="0.4370" stop-color="#ff00ff"/><stop offset="0.8092" stop-color="#ff00ff"/><stop offset="0.8559" stop-color="#ff28d8"/><stop offset="0.9084" stop-color="#ff4aa8"/><stop offset="1.0000" stop-color="#ff6080"/></linearGradient><linearGradient id="lb1_6" gradientUnits="userSpaceOnUse" x1="0" y1="89.3" x2="0" y2="260.7"><stop offset="0.0000" stop-color="#ffe000"/><stop offset="0.1896" stop-color="#ffd000"/><stop offset="0.2701" stop-color="#ffb020"/><stop offset="0.3308" stop-color="#ff8850"/><stop offset="0.3775" stop-color="#ff6080"/><stop offset="0.4119" stop-color="#ff30d0"/><stop offset="0.4370" stop-color="#ff00ff"/><stop offset="0.8209" stop-color="#ff00ff"/><stop offset="0.8676" stop-color="#ff28d8"/><stop offset="0.9142" stop-color="#ff40b8"/><stop offset="1.0000" stop-color="#ff5890"/></linearGradient><linearGradient id="ta1_0" gradientUnits="userSpaceOnUse" x1="80.8" y1="0" x2="298.7" y2="0"><stop offset="0.0055" stop-color="#ffd800"/><stop offset="0.1340" stop-color="#ffe800"/><stop offset="0.3176" stop-color="#f8f000"/><stop offset="0.4782" stop-color="#d8f018"/><stop offset="0.5929" stop-color="#a8f040"/><stop offset="0.7077" stop-color="#78f070"/><stop offset="0.8224" stop-color="#50f098"/><stop offset="1.0000" stop-color="#38f8c0"/></linearGradient><linearGradient id="ta1_1" gradientUnits="userSpaceOnUse" x1="80.8" y1="0" x2="298.7" y2="0"><stop offset="0.0055" stop-color="#ffc800"/><stop offset="0.1340" stop-color="#ffd800"/><stop offset="0.3176" stop-color="#f8f000"/><stop offset="0.4782" stop-color="#d0f020"/><stop offset="0.5929" stop-color="#a0f048"/><stop offset="0.7077" stop-color="#70f078"/><stop offset="0.8224" stop-color="#50f098"/><stop offset="1.0000" stop-color="#40f8b0"/></linearGradient><linearGradient id="ta1_2" gradientUnits="userSpaceOnUse" x1="80.8" y1="0" x2="298.7" y2="0"><stop offset="0.0055" stop-color="#ffb010"/><stop offset="0.0881" stop-color="#ffc010"/><stop offset="0.2258" stop-color="#ffd800"/><stop offset="0.3635" stop-color="#f0f000"/><stop offset="0.5011" stop-color="#c8f028"/><stop offset="0.6159" stop-color="#98f050"/><stop offset="0.7306" stop-color="#68f080"/><stop offset="0.8683" stop-color="#48f0a0"/><stop offset="1.0000" stop-color="#40f8a8"/></linearGradient><linearGradient id="ba1" gradientUnits="userSpaceOnUse" x1="82" y1="0" x2="298.7" y2="0"><stop offset="0.0000" stop-color="#ff20e0"/><stop offset="0.0231" stop-color="#ff40b8"/><stop offset="0.0554" stop-color="#ff6080"/><stop offset="0.0969" stop-color="#ff8050"/><stop offset="0.1523" stop-color="#ffa030"/><stop offset="0.1984" stop-color="#ffb820"/><stop offset="0.2446" stop-color="#ffcc10"/><stop offset="0.3138" stop-color="#ffe000"/><stop offset="0.3830" stop-color="#f0f000"/><stop offset="0.4338" stop-color="#d0f020"/><stop offset="0.5215" stop-color="#a8f038"/><stop offset="0.6138" stop-color="#80f060"/><stop offset="0.7291" stop-color="#58f090"/><stop offset="0.8676" stop-color="#40f8b0"/><stop offset="1.0000" stop-color="#30f8c0"/></linearGradient><linearGradient id="bs1_0" gradientUnits="userSpaceOnUse" x1="82" y1="0" x2="298.7" y2="0"><stop offset="0.0000" stop-color="#ff50a0"/><stop offset="0.0277" stop-color="#ff9040"/><stop offset="0.0831" stop-color="#ffb020"/><stop offset="0.1754" stop-color="#ffc810"/><stop offset="0.3000" stop-color="#ffd800"/><stop offset="0.4246" stop-color="#f0f000"/><stop offset="0.5491" stop-color="#d0f020"/><stop offset="0.6737" stop-color="#a8f038"/><stop offset="0.7983" stop-color="#80f060"/><stop offset="0.9541" stop-color="#58f090"/><stop offset="1.0000" stop-color="#40f8b0"/><stop offset="1.0000" stop-color="#30f8c0"/></linearGradient><linearGradient id="bs1_1" gradientUnits="userSpaceOnUse" x1="82" y1="0" x2="298.7" y2="0"><stop offset="0.0000" stop-color="#ff20e0"/><stop offset="0.0369" stop-color="#ff5098"/><stop offset="0.0831" stop-color="#ff7860"/><stop offset="0.1523" stop-color="#ff9838"/><stop offset="0.2377" stop-color="#ffb020"/><stop offset="0.3623" stop-color="#ffd000"/><stop offset="0.4868" stop-color="#f0f000"/><stop offset="0.6114" stop-color="#c8f028"/><stop offset="0.7360" stop-color="#98f050"/><stop offset="0.8918" stop-color="#68f080"/><stop offset="1.0000" stop-color="#44f8a8"/><stop offset="1.0000" stop-color="#30f8c0"/></linearGradient><linearGradient id="bs1_2" gradientUnits="userSpaceOnUse" x1="82" y1="0" x2="298.7" y2="0"><stop offset="0.0000" stop-color="#ff10f0"/><stop offset="0.0461" stop-color="#ff38c0"/><stop offset="0.1061" stop-color="#ff6080"/><stop offset="0.1754" stop-color="#ff8850"/><stop offset="0.3000" stop-color="#ffa830"/><stop offset="0.4246" stop-color="#ffc818"/><stop offset="0.5491" stop-color="#f0f000"/><stop offset="0.6737" stop-color="#c0f030"/><stop offset="0.8295" stop-color="#88f060"/><stop offset="1.0000" stop-color="#50f098"/><stop offset="1.0000" stop-color="#30f8c0"/></linearGradient><clipPath id="cba1"><rect x="82" y="222.7" width="216.7" height="38"/></clipPath><filter id="hb1" x="-20%" y="-20%" width="140%" height="140%"><feGaussianBlur stdDeviation="3.5 0"/></filter><filter id="vb1" x="-20%" y="-50%" width="140%" height="200%"><feGaussianBlur stdDeviation="0 3"/></filter><clipPath id="clb1"><rect x="15.5" y="89.3" width="67.1" height="171.4"/></clipPath><clipPath id="cta1"><rect x="80.8" y="97.1" width="217.9" height="38.1"/></clipPath><clipPath id="cvc1"><rect x="82" y="135.2" width="232.6" height="87.5"/></clipPath><linearGradient id="cv1" gradientUnits="userSpaceOnUse" x1="82" y1="0" x2="137.7" y2="0"><stop offset="0" stop-color="#00ffff"/><stop offset="0.5" stop-color="#08fff0"/><stop offset="1" stop-color="#20ffd0"/></linearGradient></defs><rect x="0" y="0" width="400" height="400" fill="#00ffff"/><g filter="url(#bl1)"><ellipse cx="80" cy="83.3" rx="36" ry="22" fill="#68f080" opacity="0.85"/><rect x="118" y="141.2" width="190" height="75.5" fill="#40ffa8"/><ellipse cx="316" cy="111.1" rx="22" ry="26" fill="#40f8a0"/><rect x="20" y="262.7" width="290" height="30" fill="#38f8c0"/><path d="M20 260.7L300 260.7L300 348L110 348L20 300Z" fill="#38f8c0"/><ellipse cx="292" cy="322" rx="30" ry="34" fill="#58f090"/><ellipse cx="143" cy="342" rx="8" ry="8" fill="#a0f050"/></g><rect x="82" y="135.2" width="55.7" height="87.5" fill="url(#cv1)"/><rect x="137.7" y="135.2" width="176.9" height="87.5" fill="#48ff96"/><g clip-path="url(#cvc1)"><g filter="url(#bs1)"><ellipse cx="92" cy="141.2" rx="22" ry="22" fill="#70f070" opacity="0.9"/><ellipse cx="88" cy="137.2" rx="10" ry="8" fill="#b0f040"/></g></g><rect x="298.7" y="222.7" width="15.9" height="38" fill="#00ffff"/><g clip-path="url(#clb1)"><g filter="url(#hb1)"><rect x="3.5" y="89.3" width="20.3" height="171.4" fill="url(#lb1_0)"/><rect x="23.5" y="89.3" width="11.3" height="171.4" fill="url(#lb1_1)"/><rect x="34.5" y="89.3" width="11.3" height="171.4" fill="url(#lb1_2)"/><rect x="45.5" y="89.3" width="11.3" height="171.4" fill="url(#lb1_3)"/><rect x="56.5" y="89.3" width="11.3" height="171.4" fill="url(#lb1_4)"/><rect x="67.5" y="89.3" width="9.3" height="171.4" fill="url(#lb1_5)"/><rect x="76.5" y="89.3" width="17.8" height="171.4" fill="url(#lb1_6)"/></g></g><path d="M73.8 89.3L82.6 89.3L82.6 96.6Z" fill="#b8f040"/><g clip-path="url(#cba1)"><g filter="url(#vb1)"><rect x="82" y="214.7" width="216.7" height="20.3" fill="url(#bs1_0)"/><rect x="82" y="234.7" width="216.7" height="13.3" fill="url(#bs1_1)"/><rect x="82" y="247.7" width="216.7" height="21.3" fill="url(#bs1_2)"/></g></g><g clip-path="url(#cta1)"><g filter="url(#vb1)"><rect x="80.8" y="89.1" width="217.9" height="21.2" fill="url(#ta1_0)"/><rect x="80.8" y="110" width="217.9" height="13.3" fill="url(#ta1_1)"/><rect x="80.8" y="123" width="217.9" height="20.5" fill="url(#ta1_2)"/></g></g><g fill="none" stroke="#06261a" stroke-opacity="0.6" stroke-width="1.05"><path d="M156 178.9L158.5 135.2C158.5 132.9 155.1 131.5 149.5 131.5L81.3 131.5C79 131.5 77.2 133.3 77.2 135.6L77.2 222.4C77.2 224.7 79 226.5 81.3 226.5L149.5 226.5C155.1 226.5 158.5 224.1 158.5 222.7Z"/><path d="M172 178.9L173.8 135.2C173.8 130.1 165.4 127 151.6 127L80.5 127C76 127 72.3 130.7 72.3 135.2L72.3 222.6C72.3 227.1 76 230.8 80.5 230.8L151.2 230.8C165.2 230.8 173.8 225.8 173.8 222.7Z"/><path d="M187 178.9L188.1 135.2C188.1 127.2 174.7 122.3 152.8 122.3L79.5 122.3C71.8 122.3 65.5 128.6 65.5 136.3L65.5 221.2C65.5 228.9 71.8 235.2 79.5 235.2L151.9 235.2C174.3 235.2 188.1 227.4 188.1 222.7Z"/><path d="M201 178.9L201.4 135.2C201.4 124.3 183 117.6 152.9 117.6L78.6 117.6C67.9 117.6 59.3 126.2 59.3 136.9L59.3 220.3C59.3 231 67.9 239.6 78.6 239.6L151.6 239.6C182.5 239.6 201.4 229.1 201.4 222.7Z"/><path d="M214 178.9L213.6 135.2C213.6 121.4 190.2 112.9 152.1 112.9L77.6 112.9C63.7 112.9 52.5 124.1 52.5 138L52.5 218.9C52.5 232.8 63.7 244 77.6 244L150.4 244C189.6 244 213.6 230.8 213.6 222.7Z"/><path d="M226 178.9L224.9 135.2C224.9 118.5 196.5 108.2 150.2 108.2L71 108.2C56.6 108.2 45 119.8 45 134.2L45 222.4C45 236.8 56.6 248.4 71 248.4L148.1 248.4C195.7 248.4 224.9 232.5 224.9 222.7Z"/><path d="M238 178.9L236.2 135.2C236.2 115.6 202.8 103.6 148.4 103.6L64 103.6C49.6 103.6 38 115.2 38 129.6L38 226.6C38 241 49.6 252.6 64 252.6L145.8 252.6C201.9 252.6 236.2 234.1 236.2 222.7Z"/><path d="M249.3 178.9L246.8 135.2C246.8 112.9 208.4 99.3 145.8 99.3L57.6 99.3C43.2 99.3 31.6 110.9 31.6 125.3L31.6 230.4C31.6 244.8 43.2 256.4 57.6 256.4L142.8 256.4C207.3 256.4 246.8 235.5 246.8 222.7Z"/><path d="M253.6 97.1C255.6 112.1 257.6 120.2 257.6 135.2C255.6 160.2 255.6 197.7 257.6 222.7C257.6 237.7 255.6 245.7 253.6 260.7"/><path d="M262.5 97.1C264 112.1 266 120.2 266 135.2C262.7 160.2 262.7 197.7 266 222.7C266 237.7 264 245.7 262.5 260.7"/><path d="M270.4 97.1C271.4 112.1 273.4 120.2 273.4 135.2C268.8 160.2 268.8 197.7 273.4 222.7C273.4 237.7 271.4 245.7 270.4 260.7"/><path d="M278.3 97.1C278.8 112.1 280.8 120.2 280.8 135.2C274.9 160.2 274.9 197.7 280.8 222.7C280.8 237.7 278.8 245.7 278.3 260.7"/><path d="M285.2 97.1C285.2 112.1 287.2 120.2 287.2 135.2C280 160.2 280 197.7 287.2 222.7C287.2 237.7 285.2 245.7 285.2 260.7"/><path d="M291.3 97.1C290.8 112.1 292.8 120.2 292.8 135.2C284.3 160.2 284.3 197.7 292.8 222.7C292.8 237.7 290.8 245.7 291.3 260.7"/><path d="M70 89.3C70 63.3 112 63.3 110 97.1"/><path d="M82 171.2C92 169.2 96 165.2 102 157.2"/><path d="M102 157.2C108 149.2 110 141.2 107 135.2"/><path d="M112 135.2C104 175.2 96 192.7 98 222.7"/><path d="M183.3 31V97.1"/><path d="M261.6 31C252 50 247 75 247 97.1"/><path d="M289 31C275 50 266 75 266 97.1"/><path d="M317.5 31C295 50 282 75 279.5 97.1"/><path d="M358 45C320 55 295 80 290 97.1"/><path d="M358 75C330 80 305 92 298.7 104"/><path d="M358 100C335 98 315 105 298.7 112"/><path d="M314.6 150C330 150 345 155 358 160"/><path d="M314.6 170C335 180 350 230 358 270"/><path d="M314.6 195C330 220 340 280 345 351"/><path d="M298.7 240C330 250 340 300 330 351"/><path d="M75 260.7C80 290 90 320 100 348"/><path d="M121 260.7C124 290 130 315 137.7 330"/><path d="M152 260.7C150 290 145 315 137.7 330"/><path d="M172 260.7C173 290 181 320 183 348"/><path d="M190 260.7C191 290 195 320 197 348"/><path d="M206 260.7C207 290 209.4 320 211.4 348"/><path d="M222 260.7C223 290 223.8 320 225.8 348"/><path d="M235 260.7C236 290 238 320 240 348"/><path d="M247 260.7C248 290 252.6 320 254.6 348"/><path d="M258 260.7C259 290 267 320 269 348"/><path d="M269 260.7C270 290 281.4 320 283.4 348"/><path d="M280 260.7C281 290 295.8 320 297.8 348"/><path d="M294 260.7C296 290 305 315 314.6 330"/><path d="M305 260.7C307 280 311 300 314.6 312"/><path d="M314.6 260.7C324 280 324 315 314.6 330"/><path d="M314.6 260.7C306 285 306 315 314.6 330"/></g><path d="M15.5 89.3H73.8M73.8 89.3L80.8 96.3M80.8 97.1H298.7V260.7M82 97.1V222.7M90.3 97.1V135.2M82 135.2H314.6M82 222.7H314.6M15.5 260.7H298.7M137.7 135.2V222.7M314.6 135.2V222.7M137.7 260.7V348H314.6V260.7M298.7 260.7H314.6" fill="none" stroke="#1c70d8" stroke-width="1.1"/><path d="M15.6 30V352" stroke="#1a70c0" stroke-width="1.3" opacity="0.9"/><path d="M72.6 88.1h2.4v2.4h-2.4ZM79.6 95.9h2.4v2.4h-2.4ZM89.1 95.9h2.4v2.4h-2.4ZM89.1 134h2.4v2.4h-2.4ZM80.8 134h2.4v2.4h-2.4ZM136.5 134h2.4v2.4h-2.4ZM136.5 221.5h2.4v2.4h-2.4ZM80.8 221.5h2.4v2.4h-2.4ZM297.5 95.9h2.4v2.4h-2.4ZM297.5 134h2.4v2.4h-2.4ZM313.4 134h2.4v2.4h-2.4ZM313.4 221.5h2.4v2.4h-2.4ZM297.5 221.5h2.4v2.4h-2.4ZM297.5 259.5h2.4v2.4h-2.4ZM14.3 88.1h2.4v2.4h-2.4ZM14.3 259.5h2.4v2.4h-2.4ZM136.5 259.5h2.4v2.4h-2.4ZM313.4 259.5h2.4v2.4h-2.4ZM136.5 346.8h2.4v2.4h-2.4ZM313.4 346.8h2.4v2.4h-2.4Z" fill="#103058" opacity="0.85"/></svg></div><div class="gp"><svg class="gr" width="599" height="320" viewBox="374 31 599 320"><path d="M469.5 59.5V291.52H943" class="ax"/><path d="M464 59.5H469.5M464 98.17H469.5M464 136.84H469.5M464 175.51H469.5M464 214.18H469.5M464 252.85H469.5M464 291.52H469.5M469.5 291.52V296.02M537.1 291.52V296.02M604.7 291.52V296.02M672.3 291.52V296.02M739.9 291.52V296.02M807.5 291.52V296.02M875.1 291.52V296.02" class="ax"/><text x="458" y="63.7" text-anchor="end">1</text><text x="458" y="102.37" text-anchor="end">0.95</text><text x="458" y="141.04" text-anchor="end">0.9</text><text x="458" y="179.71" text-anchor="end">0.85</text><text x="458" y="218.38" text-anchor="end">0.8</text><text x="458" y="257.05" text-anchor="end">0.75</text><text x="458" y="295.72" text-anchor="end">0.7</text><text x="469.5" y="310.82" text-anchor="middle">0</text><text x="537.1" y="310.82" text-anchor="middle">1</text><text x="604.7" y="310.82" text-anchor="middle">2</text><text x="672.3" y="310.82" text-anchor="middle">3</text><text x="739.9" y="310.82" text-anchor="middle">4</text><text x="807.5" y="310.82" text-anchor="middle">5</text><text x="875.1" y="310.82" text-anchor="middle">6</text><text x="643" y="329.5" text-anchor="middle" letter-spacing="0.55">Length, mm</text><text x="956.3" y="81.6" letter-spacing="1.6">|B|</text><rect x="971.6" y="81" width="1.6" height="2.6" fill="#e0a060"/><polyline points="469.9,222.3 472,210.2 478.7,186.2 485.4,164.3 489.4,156.8 497.4,143.4 505.4,129.5 513.4,126.1 522.8,118 529.5,116.2 540.2,114.6 548.2,112.7 560.2,114.8 593.6,114.8 596.3,114 620.3,113.5 668.4,113.2 671.1,114 700,113.9 716,114.7 756.1,114.7 774.8,112.9 814.9,112.9 817.6,111.8 833.6,111.8 849.7,113.9 857.7,112.9 887.1,113.9 899.1,124.1 913.8,127.6 923.1,134.8 943.2,190.1" class="cv"/></svg></div><div class="tabbar" style="left:15px;width:343.5px"><div class="tab" style="left:0.5px;width:59px"><b class="ti-fem"><svg width="7" height="9" viewBox="0 0 7 9"><rect x="1" y="0.5" width="5" height="8" rx="1" fill="#2a2a2a"/><path d="M2 2.5h3M2 4.5h3M2 6.5h3" stroke="#999" stroke-width="0.8"/></svg></b><span>FEMM_start.FEM</span></div><div class="tab act" style="left:62px;width:58px"><b class="ti-ans"><svg width="10" height="9" viewBox="0 0 10 9"><path d="M1.2 3.2C1 6.5 3 8.2 4.6 6.4C5.6 5.2 4.4 3.2 5.8 2.2C7.2 1.2 9.2 2 9 4C8.8 6 6.6 6.3 6 5" fill="none" stroke="#3a3a48" stroke-width="1.2"/><path d="M2.6 2.4L3.6 1" stroke="#3a3a48" stroke-width="1"/></svg></b><span>FEMM_start.ans</span></div></div><div class="tabbar" style="left:374px;width:599px"><div class="tab" style="left:2px;width:59px"><b class="ti-fem"><svg width="7" height="9" viewBox="0 0 7 9"><rect x="1" y="0.5" width="5" height="8" rx="1" fill="#2a2a2a"/><path d="M2 2.5h3M2 4.5h3M2 6.5h3" stroke="#999" stroke-width="0.8"/></svg></b><span>FEMM_start.FEM</span></div><div class="tab" style="left:63px;width:56px"><b class="ti-ans"><svg width="10" height="9" viewBox="0 0 10 9"><path d="M1.2 3.2C1 6.5 3 8.2 4.6 6.4C5.6 5.2 4.4 3.2 5.8 2.2C7.2 1.2 9.2 2 9 4C8.8 6 6.6 6.3 6 5" fill="none" stroke="#3a3a48" stroke-width="1.2"/><path d="M2.6 2.4L3.6 1" stroke="#3a3a48" stroke-width="1"/></svg></b><span>FEMM_start.ans</span></div><div class="tab act" style="left:121px;width:54px"><b class="ti-xy"><svg width="9" height="9" viewBox="0 0 9 9"><rect x="0.5" y="0.5" width="8" height="8" fill="#c8d0dc" stroke="#505868"/><path d="M1.5 7.5L3.5 3.5L5.5 5.5L7.5 1.5" fill="none" stroke="#283040" stroke-width="1.2"/></svg></b><span>Без названия</span></div></div><div class="st" style="left:0px">(r=107.3000,z=24.9000)</div><div class="st" style="left:358.8px">(x=1.24578,y=0.880641)</div><div class="tb" style="left:0px;width:358.5px;top:377px"></div><div class="tbs" style="left:0px;top:377px"><i></i><i></i><i></i><i></i></div><div class="tbb" style="left:21.5px;top:377px"><b class="ic-file"></b></div><div class="tbb" style="left:45.3px;top:377px"><b class="ic-opera"></b></div><div class="tbb" style="left:69.1px;top:377px"><b class="ic-media"></b></div><div class="tbb" style="left:92.9px;top:377px"><b class="ic-folder"></b></div><div class="tbb hl" style="left:116.7px;top:377px"><b class="ic-femm"></b></div><div class="tbb" style="left:140.5px;top:377px"><b class="ic-vs"></b></div><div class="tbb" style="left:164.3px;top:377px"><b class="ic-doc"></b></div><div class="tb" style="left:358.5px;width:614.5px;top:377px"></div><div class="tbs" style="left:358.5px;top:377px"><i></i><i></i><i></i><i></i></div><div class="tbb" style="left:380px;top:377px"><b class="ic-file"></b></div><div class="tbb" style="left:403.8px;top:377px"><b class="ic-opera"></b></div><div class="tbb" style="left:427.6px;top:377px"><b class="ic-media"></b></div><div class="tbb" style="left:451.4px;top:377px"><b class="ic-folder"></b></div><div class="tbb hl" style="left:475.2px;top:377px"><b class="ic-femm"></b></div><div class="tbb" style="left:499px;top:377px"><b class="ic-doc"></b></div></div><div class="pn" style="top:805px"><div class="tt" style="top:-10px"></div><div class="ttx" style="left:313px;top:-10px">femm - [FEM</div><div class="ttx" style="left:674px;top:-10px">femm - [Без названия]</div><div class="tti" style="left:1px;top:-9px"></div><div class="tti" style="left:359.5px;top:-9px"></div><div class="mb" style="left:0;width:358.5px"><span class="mi0"><svg width="10" height="9" viewBox="0 0 10 9"><path d="M1.2 3.2C1 6.5 3 8.2 4.6 6.4C5.6 5.2 4.4 3.2 5.8 2.2C7.2 1.2 9.2 2 9 4C8.8 6 6.6 6.3 6 5" fill="none" stroke="#3a3a48" stroke-width="1.2"/><path d="M2.6 2.4L3.6 1" stroke="#3a3a48" stroke-width="1"/></svg></span><span style="left:15px">File</span><span style="left:31.5px">Edit</span><span style="left:49.5px">Zoom</span><span style="left:73.5px">View</span><span style="left:93.5px">Operation</span><span style="left:128.5px">Plot X-Y</span><span style="left:158.5px">Integrate</span><span style="left:190.5px">Window</span><span style="left:220.5px">Help</span></div><div class="mb" style="left:358.5px;width:614.5px"><span class="mi1"><svg width="9" height="9" viewBox="0 0 9 9"><rect x="0.5" y="0.5" width="8" height="8" fill="#c8d0dc" stroke="#505868"/><path d="M1.5 7.5L3.5 3.5L5.5 5.5L7.5 1.5" fill="none" stroke="#283040" stroke-width="1.2"/></svg></span><span style="left:16px">File</span><span style="left:32px">Edit</span><span style="left:49.5px">View</span><span style="left:70.5px">Window</span><span style="left:100.5px">Help</span></div><div class="tl" style="left:0;width:358.5px"><b class="bt bt-new" style="left:7px"><svg width="10.5" height="11.5" viewBox="0 0 10.5 11.5"><path d="M2.5 1.5h4l2 2v6h-6z" fill="#fff" stroke="#333" stroke-width="0.9"/><path d="M6.5 1.5v2h2" fill="none" stroke="#333" stroke-width="0.7"/></svg></b><b class="bt bt-open" style="left:19px"><svg width="10.5" height="11.5" viewBox="0 0 10.5 11.5"><path d="M1 3.5h3l1 1h4v5H1z" fill="#a09018" stroke="#555" stroke-width="0.6"/><path d="M2 6l1.5-1.5h6.5L8.5 9.5H1z" fill="#d8c848"/></svg></b><b class="bt bt-sel" style="left:40.5px"><svg width="10.5" height="11.5" viewBox="0 0 10.5 11.5"><rect x="4" y="5" width="2.2" height="2.2" fill="#333"/></svg></b><b class="bt bt-line" style="left:52.5px"><svg width="10.5" height="11.5" viewBox="0 0 10.5 11.5"><path d="M2.5 8.5L8 3" stroke="#c04040" stroke-width="1"/><rect x="1.5" y="7.5" width="2" height="2" fill="#111"/><rect x="7" y="2" width="2" height="2" fill="#111"/></svg></b><b class="bt bt-gx" style="left:64.5px"><svg width="10.5" height="11.5" viewBox="0 0 10.5 11.5"><path d="M2 2.5L8.5 9M8.5 2.5L2 9" stroke="#10d010" stroke-width="3"/><rect x="1" y="1.5" width="2" height="2" fill="#111"/><rect x="7.5" y="1.5" width="2" height="2" fill="#111"/><rect x="1" y="8" width="2" height="2" fill="#111"/><rect x="7.5" y="8" width="2" height="2" fill="#111"/></svg></b><b class="bt bt-c1" style="left:81.5px"><svg width="10.5" height="11.5" viewBox="0 0 10.5 11.5"><path d="M2 2v7.5h7" fill="none" stroke="#2850a0" stroke-width="0.9"/><path d="M2.5 5c2-3 4-3 5.5 0.5" fill="none" stroke="#2850a0" stroke-width="0.8"/><path d="M2 9.5h7" stroke="#333" stroke-width="0.8"/></svg></b><b class="bt bt-int" style="left:93.5px"><svg width="10.5" height="11.5" viewBox="0 0 10.5 11.5"><path d="M7 2.3C6 1.4 5 2 4.9 3.5L4.6 8C4.5 9.5 3.5 10 2.6 9.2" fill="none" stroke="#111" stroke-width="1.5"/></svg></b><b class="bt bt-c3" style="left:105.5px"><svg width="10.5" height="11.5" viewBox="0 0 10.5 11.5"><path d="M5.2 2v7" stroke="#555" stroke-width="1"/><path d="M4 4.5h2.4M4 6.5h2.4" stroke="#888" stroke-width="0.8"/></svg></b><b class="bt bt-yel" style="left:122px"><svg width="10.5" height="11.5" viewBox="0 0 10.5 11.5"><rect x="0.5" y="1" width="9" height="9" fill="#f6f088"/></svg></b><b class="bt bt-gry" style="left:134px"><svg width="10.5" height="11.5" viewBox="0 0 10.5 11.5"><rect x="1.5" y="1.5" width="7.5" height="7.5" fill="#9a9a9a" stroke="#333" stroke-width="0.9"/><path d="M2.5 3.5h5.5M2.5 5.5h5.5M2.5 7.5h5.5" stroke="#777" stroke-width="0.6"/></svg></b><b class="bt bt-rbw" style="left:146px"><svg width="10.5" height="11.5" viewBox="0 0 10.5 11.5"><defs><linearGradient id="rbwg" x1="0" y1="0" x2="1" y2="1"><stop offset="0" stop-color="#20b020"/><stop offset="0.35" stop-color="#f0e000"/><stop offset="0.6" stop-color="#e02020"/><stop offset="1" stop-color="#2040e0"/></linearGradient></defs><rect x="1" y="1" width="8.5" height="9" fill="url(#rbwg)" stroke="#333" stroke-width="0.6"/></svg></b><b class="bt bt-arr" style="left:158px"><svg width="10.5" height="11.5" viewBox="0 0 10.5 11.5"><path d="M2 2l5.5 1.8-2 0.6 3 3-1.3 1.3-3-3-0.6 2z" fill="#111"/></svg></b><i class="sep" style="left:35px"></i><i class="sep" style="left:78px"></i><i class="sep" style="left:118px"></i></div><div class="tl" style="left:358.5px;width:614.5px"><b class="bt" style="left:8.5px"><svg width="10.5" height="11.5" viewBox="0 0 10.5 11.5"><path d="M2.5 1.5h4l2 2v6h-6z" fill="#fff" stroke="#333" stroke-width="0.9"/><path d="M6.5 1.5v2h2" fill="none" stroke="#333" stroke-width="0.7"/></svg></b><b class="bt" style="left:20px"><svg width="10.5" height="11.5" viewBox="0 0 10.5 11.5"><path d="M1 3.5h3l1 1h4v5H1z" fill="#a09018" stroke="#555" stroke-width="0.6"/><path d="M2 6l1.5-1.5h6.5L8.5 9.5H1z" fill="#d8c848"/></svg></b></div><div class="vt" style="left:0;width:15px"><b class="vb vb-v1" style="top:8.5px"></b><b class="vb vb-v2" style="top:19.5px"></b><b class="vb vb-zin" style="top:42px"></b><b class="vb vb-zout" style="top:53px"></b><b class="vb vb-zfit" style="top:64.5px"></b><b class="vb vb-zwin" style="top:76.5px"></b><b class="vb vb-up" style="top:90px"></b><b class="vb vb-dn" style="top:101px"></b><b class="vb vb-lf" style="top:113px"></b><b class="vb vb-rt" style="top:124.5px"></b><b class="vb vb-grid" style="top:138.5px"></b><b class="vb vb-pt" style="top:150px"></b><b class="vb vb-cfg" style="top:161px"></b></div><div class="vt" style="left:358.5px;width:15.5px"><b class="vb vb-v1" style="top:8.5px;left:2.5px"></b><b class="vb vb-v2" style="top:19.5px;left:2.5px"></b></div><div class="fp"><svg width="343.5" height="320.5" viewBox="15 30.5 343.5 320.5"><defs><filter id="bl2" x="-50%" y="-50%" width="200%" height="200%"><feGaussianBlur stdDeviation="7"/></filter><filter id="bm2" x="-50%" y="-50%" width="200%" height="200%"><feGaussianBlur stdDeviation="12"/></filter><filter id="bs2" x="-50%" y="-50%" width="200%" height="200%"><feGaussianBlur stdDeviation="3"/></filter><linearGradient id="lb2_0" gradientUnits="userSpaceOnUse" x1="0" y1="89.3" x2="0" y2="260.7"><stop offset="0.0000" stop-color="#b0f038"/><stop offset="0.0694" stop-color="#d0f018"/><stop offset="0.1231" stop-color="#f0f000"/><stop offset="0.1838" stop-color="#ffd800"/><stop offset="0.2375" stop-color="#ffa830"/><stop offset="0.2888" stop-color="#ff7860"/><stop offset="0.3291" stop-color="#ff48a8"/><stop offset="0.3734" stop-color="#ff18e8"/><stop offset="0.4078" stop-color="#ff00ff"/><stop offset="0.8092" stop-color="#ff00ff"/><stop offset="0.8501" stop-color="#ff30d0"/><stop offset="0.8909" stop-color="#ff58a0"/><stop offset="0.9317" stop-color="#ff8858"/><stop offset="0.9667" stop-color="#ffb830"/><stop offset="0.9959" stop-color="#d8f018"/><stop offset="1.0000" stop-color="#b8f038"/></linearGradient><linearGradient id="lb2_1" gradientUnits="userSpaceOnUse" x1="0" y1="89.3" x2="0" y2="260.7"><stop offset="0.0000" stop-color="#c8f020"/><stop offset="0.0758" stop-color="#e8f000"/><stop offset="0.1365" stop-color="#ffe000"/><stop offset="0.1902" stop-color="#ffc010"/><stop offset="0.2439" stop-color="#ff9040"/><stop offset="0.2940" stop-color="#ff6878"/><stop offset="0.3337" stop-color="#ff38c0"/><stop offset="0.3734" stop-color="#ff10f0"/><stop offset="0.4032" stop-color="#ff00ff"/><stop offset="0.8267" stop-color="#ff00ff"/><stop offset="0.8734" stop-color="#ff30d0"/><stop offset="0.9142" stop-color="#ff5898"/><stop offset="0.9551" stop-color="#ff8060"/><stop offset="0.9959" stop-color="#ffa040"/><stop offset="1.0000" stop-color="#ffb030"/></linearGradient><linearGradient id="lb2_2" gradientUnits="userSpaceOnUse" x1="0" y1="89.3" x2="0" y2="260.7"><stop offset="0.0000" stop-color="#e0f000"/><stop offset="0.0898" stop-color="#f8f000"/><stop offset="0.1499" stop-color="#ffd800"/><stop offset="0.2036" stop-color="#ffb020"/><stop offset="0.2573" stop-color="#ff8050"/><stop offset="0.2993" stop-color="#ff5890"/><stop offset="0.3384" stop-color="#ff28d8"/><stop offset="0.3734" stop-color="#ff00ff"/><stop offset="0.8267" stop-color="#ff00ff"/><stop offset="0.8734" stop-color="#ff30d0"/><stop offset="0.9259" stop-color="#ff5898"/><stop offset="0.9726" stop-color="#ff7868"/><stop offset="1.0000" stop-color="#ff9048"/></linearGradient><linearGradient id="lb2_3" gradientUnits="userSpaceOnUse" x1="0" y1="89.3" x2="0" y2="260.7"><stop offset="0.0000" stop-color="#f0f000"/><stop offset="0.0963" stop-color="#ffe800"/><stop offset="0.1569" stop-color="#ffc810"/><stop offset="0.2100" stop-color="#ffa030"/><stop offset="0.2643" stop-color="#ff7860"/><stop offset="0.3040" stop-color="#ff48a8"/><stop offset="0.3436" stop-color="#ff18e8"/><stop offset="0.3734" stop-color="#ff00ff"/><stop offset="0.8326" stop-color="#ff00ff"/><stop offset="0.8792" stop-color="#ff30d0"/><stop offset="0.9376" stop-color="#ff5898"/><stop offset="0.9842" stop-color="#ff7070"/><stop offset="1.0000" stop-color="#ff8858"/></linearGradient><linearGradient id="lb2_4" gradientUnits="userSpaceOnUse" x1="0" y1="89.3" x2="0" y2="260.7"><stop offset="0.0000" stop-color="#f8f000"/><stop offset="0.1033" stop-color="#ffe000"/><stop offset="0.1634" stop-color="#ffc010"/><stop offset="0.2170" stop-color="#ff9840"/><stop offset="0.2707" stop-color="#ff7068"/><stop offset="0.3086" stop-color="#ff40b8"/><stop offset="0.3436" stop-color="#ff10f0"/><stop offset="0.3681" stop-color="#ff00ff"/><stop offset="0.8501" stop-color="#ff00ff"/><stop offset="0.8967" stop-color="#ff30d0"/><stop offset="0.9492" stop-color="#ff5098"/><stop offset="1.0000" stop-color="#ff6878"/></linearGradient><linearGradient id="lb2_5" gradientUnits="userSpaceOnUse" x1="0" y1="89.3" x2="0" y2="260.7"><stop offset="0.0000" stop-color="#ffe800"/><stop offset="0.0963" stop-color="#ffd800"/><stop offset="0.1634" stop-color="#ffb820"/><stop offset="0.2240" stop-color="#ff9040"/><stop offset="0.2771" stop-color="#ff6878"/><stop offset="0.3139" stop-color="#ff38c8"/><stop offset="0.3436" stop-color="#ff00ff"/><stop offset="0.8676" stop-color="#ff00ff"/><stop offset="0.9142" stop-color="#ff28d8"/><stop offset="0.9667" stop-color="#ff4aa8"/><stop offset="1.0000" stop-color="#ff6080"/></linearGradient><linearGradient id="lb2_6" gradientUnits="userSpaceOnUse" x1="0" y1="89.3" x2="0" y2="260.7"><stop offset="0.0000" stop-color="#ffe000"/><stop offset="0.0963" stop-color="#ffd000"/><stop offset="0.1768" stop-color="#ffb020"/><stop offset="0.2375" stop-color="#ff8850"/><stop offset="0.2841" stop-color="#ff6080"/><stop offset="0.3186" stop-color="#ff30d0"/><stop offset="0.3436" stop-color="#ff00ff"/><stop offset="0.8792" stop-color="#ff00ff"/><stop offset="0.9259" stop-color="#ff28d8"/><stop offset="0.9726" stop-color="#ff40b8"/><stop offset="1.0000" stop-color="#ff5890"/></linearGradient><linearGradient id="ta2_0" gradientUnits="userSpaceOnUse" x1="80.8" y1="0" x2="298.7" y2="0"><stop offset="0.0055" stop-color="#ffd800"/><stop offset="0.1340" stop-color="#ffe800"/><stop offset="0.3176" stop-color="#f8f000"/><stop offset="0.4782" stop-color="#d8f018"/><stop offset="0.5929" stop-color="#a8f040"/><stop offset="0.7077" stop-color="#78f070"/><stop offset="0.8224" stop-color="#50f098"/><stop offset="1.0000" stop-color="#38f8c0"/></linearGradient><linearGradient id="ta2_1" gradientUnits="userSpaceOnUse" x1="80.8" y1="0" x2="298.7" y2="0"><stop offset="0.0055" stop-color="#ffc800"/><stop offset="0.1340" stop-color="#ffd800"/><stop offset="0.3176" stop-color="#f8f000"/><stop offset="0.4782" stop-color="#d0f020"/><stop offset="0.5929" stop-color="#a0f048"/><stop offset="0.7077" stop-color="#70f078"/><stop offset="0.8224" stop-color="#50f098"/><stop offset="1.0000" stop-color="#40f8b0"/></linearGradient><linearGradient id="ta2_2" gradientUnits="userSpaceOnUse" x1="80.8" y1="0" x2="298.7" y2="0"><stop offset="0.0055" stop-color="#ffb010"/><stop offset="0.0881" stop-color="#ffc010"/><stop offset="0.2258" stop-color="#ffd800"/><stop offset="0.3635" stop-color="#f0f000"/><stop offset="0.5011" stop-color="#c8f028"/><stop offset="0.6159" stop-color="#98f050"/><stop offset="0.7306" stop-color="#68f080"/><stop offset="0.8683" stop-color="#48f0a0"/><stop offset="1.0000" stop-color="#40f8a8"/></linearGradient><linearGradient id="ba2" gradientUnits="userSpaceOnUse" x1="82" y1="0" x2="298.7" y2="0"><stop offset="0.0000" stop-color="#ff20e0"/><stop offset="0.0277" stop-color="#ff40b8"/><stop offset="0.0600" stop-color="#ff6070"/><stop offset="0.0831" stop-color="#ff8040"/><stop offset="0.1523" stop-color="#ff9830"/><stop offset="0.2446" stop-color="#ffa820"/><stop offset="0.3046" stop-color="#ffc810"/><stop offset="0.3507" stop-color="#f0f000"/><stop offset="0.4153" stop-color="#c8f028"/><stop offset="0.4892" stop-color="#90f050"/><stop offset="0.5814" stop-color="#60f080"/><stop offset="0.6737" stop-color="#40f8a8"/><stop offset="0.7753" stop-color="#30fcd0"/><stop offset="0.8676" stop-color="#20ffe0"/><stop offset="1.0000" stop-color="#30f8c8"/></linearGradient><linearGradient id="bs2_0" gradientUnits="userSpaceOnUse" x1="82" y1="0" x2="298.7" y2="0"><stop offset="0.0000" stop-color="#ff50a0"/><stop offset="0.0277" stop-color="#ff9040"/><stop offset="0.0831" stop-color="#ffb020"/><stop offset="0.1754" stop-color="#ffc810"/><stop offset="0.2677" stop-color="#ffd800"/><stop offset="0.3599" stop-color="#f0f000"/><stop offset="0.4522" stop-color="#d0f020"/><stop offset="0.5445" stop-color="#a8f038"/><stop offset="0.6368" stop-color="#80f060"/><stop offset="0.7522" stop-color="#58f090"/><stop offset="0.8676" stop-color="#40f8b0"/><stop offset="1.0000" stop-color="#30f8c0"/></linearGradient><linearGradient id="bs2_1" gradientUnits="userSpaceOnUse" x1="82" y1="0" x2="298.7" y2="0"><stop offset="0.0000" stop-color="#ff20e0"/><stop offset="0.0369" stop-color="#ff5098"/><stop offset="0.0831" stop-color="#ff7860"/><stop offset="0.1523" stop-color="#ff9838"/><stop offset="0.2215" stop-color="#ffb020"/><stop offset="0.3138" stop-color="#ffd000"/><stop offset="0.4061" stop-color="#f0f000"/><stop offset="0.4984" stop-color="#c8f028"/><stop offset="0.5907" stop-color="#98f050"/><stop offset="0.7060" stop-color="#68f080"/><stop offset="0.8445" stop-color="#44f8a8"/><stop offset="1.0000" stop-color="#30f8c0"/></linearGradient><linearGradient id="bs2_2" gradientUnits="userSpaceOnUse" x1="82" y1="0" x2="298.7" y2="0"><stop offset="0.0000" stop-color="#ff10f0"/><stop offset="0.0461" stop-color="#ff38c0"/><stop offset="0.1061" stop-color="#ff6080"/><stop offset="0.1754" stop-color="#ff8850"/><stop offset="0.2677" stop-color="#ffa830"/><stop offset="0.3599" stop-color="#ffc818"/><stop offset="0.4522" stop-color="#f0f000"/><stop offset="0.5445" stop-color="#c0f030"/><stop offset="0.6599" stop-color="#88f060"/><stop offset="0.7983" stop-color="#50f098"/><stop offset="1.0000" stop-color="#30f8c0"/></linearGradient><clipPath id="cba2"><rect x="82" y="222.7" width="216.7" height="38"/></clipPath><filter id="hb2" x="-20%" y="-20%" width="140%" height="140%"><feGaussianBlur stdDeviation="3.5 0"/></filter><filter id="vb2" x="-20%" y="-50%" width="140%" height="200%"><feGaussianBlur stdDeviation="0 3"/></filter><clipPath id="clb2"><rect x="15.5" y="89.3" width="67.1" height="171.4"/></clipPath><clipPath id="cta2"><rect x="80.8" y="97.1" width="217.9" height="38.1"/></clipPath><clipPath id="cvc2"><rect x="82" y="135.2" width="232.6" height="87.5"/></clipPath><linearGradient id="cv2" gradientUnits="userSpaceOnUse" x1="82" y1="0" x2="137.7" y2="0"><stop offset="0" stop-color="#00ffff"/><stop offset="0.42" stop-color="#04fff6"/><stop offset="0.62" stop-color="#1cffd4"/><stop offset="1" stop-color="#38ffb0"/></linearGradient></defs><rect x="0" y="0" width="400" height="400" fill="#00ffff"/><g filter="url(#bl2)"><ellipse cx="80" cy="83.3" rx="36" ry="22" fill="#68f080" opacity="0.85"/><rect x="118" y="141.2" width="190" height="75.5" fill="#40ffa8"/><ellipse cx="322" cy="188.9" rx="28" ry="70" fill="#40f8a8"/><ellipse cx="285" cy="113.1" rx="16" ry="22" fill="#40f8a8"/><path d="M20 260.7L200 260.7L200 350L90 350L20 306Z" fill="#38f8c0"/><ellipse cx="312" cy="306" rx="34" ry="44" fill="#50f0a0"/><ellipse cx="143" cy="344" rx="8" ry="7" fill="#a0f050"/></g><rect x="82" y="135.2" width="55.7" height="87.5" fill="url(#cv2)"/><rect x="137.7" y="135.2" width="176.9" height="87.5" fill="#3cf8b4"/><g clip-path="url(#cvc2)"><g filter="url(#bs2)"><ellipse cx="90" cy="137.2" rx="16" ry="14" fill="#a0f048" opacity="0.85"/></g></g><g clip-path="url(#clb2)"><g filter="url(#hb2)"><rect x="3.5" y="89.3" width="20.3" height="171.4" fill="url(#lb2_0)"/><rect x="23.5" y="89.3" width="11.3" height="171.4" fill="url(#lb2_1)"/><rect x="34.5" y="89.3" width="11.3" height="171.4" fill="url(#lb2_2)"/><rect x="45.5" y="89.3" width="11.3" height="171.4" fill="url(#lb2_3)"/><rect x="56.5" y="89.3" width="11.3" height="171.4" fill="url(#lb2_4)"/><rect x="67.5" y="89.3" width="9.3" height="171.4" fill="url(#lb2_5)"/><rect x="76.5" y="89.3" width="17.8" height="171.4" fill="url(#lb2_6)"/></g></g><path d="M73.8 89.3L82.6 89.3L82.6 96.6Z" fill="#b8f040"/><rect x="82" y="222.7" width="216.7" height="38" fill="url(#ba2)"/><g clip-path="url(#cba2)"><g filter="url(#bs2)"><ellipse cx="266" cy="245.7" rx="18" ry="8" fill="#00ffff"/></g></g><g clip-path="url(#cta2)"><g filter="url(#vb2)"><rect x="80.8" y="89.1" width="217.9" height="21.2" fill="url(#ta2_0)"/><rect x="80.8" y="110" width="217.9" height="13.3" fill="url(#ta2_1)"/><rect x="80.8" y="123" width="217.9" height="20.5" fill="url(#ta2_2)"/></g></g><g fill="none" stroke="#06261a" stroke-opacity="0.6" stroke-width="1.05"><path d="M150 178.9L152.5 135.2C152.5 133.8 149.1 133 143.5 133L83 133C81.9 133 81 133.9 81 135L81 223.2C81 224.3 81.9 225.2 83 225.2L143.5 225.2C149.1 225.2 152.5 223.6 152.5 222.7Z"/><path d="M159.3 178.9L161.4 135.2C161.4 132.1 155.1 130.2 144.8 130.2L81.6 130.2C80.5 130.2 79.6 131.1 79.6 132.2L79.6 225.8C79.6 226.9 80.5 227.8 81.6 227.8L144.5 227.8C155 227.8 161.4 224.7 161.4 222.7Z"/><path d="M168.7 178.9L170.3 135.2C170.3 130.4 161.1 127.4 146 127.4L81.3 127.4C79 127.4 77.1 129.2 77.1 131.5L77.1 226.3C77.1 228.6 79 230.5 81.3 230.5L145.5 230.5C160.9 230.5 170.3 225.7 170.3 222.7Z"/><path d="M178 178.9L179.2 135.2C179.2 128.6 167.1 124.6 147.2 124.6L80.8 124.6C77.1 124.6 74 127.6 74 131.3L74 226.3C74 230.1 77.1 233.1 80.8 233.1L146.5 233.1C166.8 233.1 179.2 226.7 179.2 222.7Z"/><path d="M187.3 178.9L188.2 135.2C188.2 126.9 173.1 121.8 148.5 121.8L80.3 121.8C74.8 121.8 70.4 126.2 70.4 131.6L70.4 225.9C70.4 231.3 74.8 235.7 80.3 235.7L147.5 235.7C172.7 235.7 188.2 227.7 188.2 222.7Z"/><path d="M196.7 178.9L197.1 135.2C197.1 125.1 179.1 119 149.7 119L79.7 119C72.3 119 66.4 124.9 66.4 132.2L66.4 225.1C66.4 232.4 72.3 238.4 79.7 238.4L148.5 238.4C178.6 238.4 197.1 228.7 197.1 222.7Z"/><path d="M206 178.9L206 135.2C206 123.4 185.1 116.2 151 116.2L79 116.2C69.6 116.2 62 123.8 62 133.2L62 224C62 233.4 69.6 241 79 241L149.5 241C184.5 241 206 229.7 206 222.7Z"/><path d="M215.3 178.9L214.9 135.2C214.9 121.6 191.1 113.3 152.2 113.3L78.3 113.3C66.6 113.3 57.2 122.8 57.2 134.4L57.2 222.6C57.2 234.2 66.6 243.6 78.3 243.6L150.5 243.6C190.4 243.6 214.9 230.7 214.9 222.7Z"/><path d="M224.7 178.9L223.8 135.2C223.8 119.9 197.1 110.5 153.5 110.5L77.5 110.5C63.5 110.5 52.1 121.9 52.1 135.9L52.1 220.9C52.1 234.9 63.5 246.3 77.5 246.3L151.5 246.3C196.3 246.3 223.8 231.7 223.8 222.7Z"/><path d="M234 178.9L232.8 135.2C232.8 118.2 203.1 107.7 154.8 107.7L72.7 107.7C58.4 107.7 46.7 119.4 46.7 133.7L46.7 222.9C46.7 237.3 58.4 248.9 72.7 248.9L152.5 248.9C202.3 248.9 232.8 232.7 232.8 222.7Z"/><path d="M243.3 178.9L241.7 135.2C241.7 116.4 209.1 104.9 156 104.9L67.1 104.9C52.7 104.9 41.1 116.6 41.1 130.9L41.1 225.5C41.1 239.9 52.7 251.5 67.1 251.5L153.5 251.5C208.2 251.5 241.7 233.7 241.7 222.7Z"/><path d="M252.7 178.9L250.6 135.2C250.6 114.7 215.1 102.1 157.2 102.1L61.2 102.1C46.8 102.1 35.2 113.7 35.2 128.1L35.2 228.2C35.2 242.5 46.8 254.2 61.2 254.2L154.5 254.2C214.1 254.2 250.6 234.7 250.6 222.7Z"/><path d="M262 178.9L259.5 135.2C259.5 112.9 221.1 99.3 158.5 99.3L55 99.3C40.6 99.3 29 110.9 29 125.3L29 230.8C29 245.2 40.6 256.8 55 256.8L155.5 256.8C220 256.8 259.5 235.7 259.5 222.7Z"/><path d="M253.6 97.1C255.6 112.1 257.6 120.2 257.6 135.2C255.6 160.2 255.6 197.7 257.6 222.7C257.6 237.7 255.6 245.7 253.6 260.7"/><path d="M262.5 97.1C264 112.1 266 120.2 266 135.2C262.7 160.2 262.7 197.7 266 222.7C266 237.7 264 245.7 262.5 260.7"/><path d="M270.4 97.1C271.4 112.1 273.4 120.2 273.4 135.2C268.8 160.2 268.8 197.7 273.4 222.7C273.4 237.7 271.4 245.7 270.4 260.7"/><path d="M278.3 97.1C278.8 112.1 280.8 120.2 280.8 135.2C274.9 160.2 274.9 197.7 280.8 222.7C280.8 237.7 278.8 245.7 278.3 260.7"/><path d="M285.2 97.1C285.2 112.1 287.2 120.2 287.2 135.2C280 160.2 280 197.7 287.2 222.7C287.2 237.7 285.2 245.7 285.2 260.7"/><path d="M291.3 97.1C290.8 112.1 292.8 120.2 292.8 135.2C284.3 160.2 284.3 197.7 292.8 222.7C292.8 237.7 290.8 245.7 291.3 260.7"/><path d="M70 89.3C70 63.3 112 63.3 110 97.1"/><path d="M82 149.2C96 151.2 103 143.2 102 135.2"/><path d="M112 135.2C104 175.2 96 192.7 98 222.7"/><path d="M249 31C242 50 238 75 237.6 97.1"/><path d="M298.7 110C305 85 330 72 358 80"/><path d="M298.7 118C320 110 340 105 358 102"/><path d="M358 120C330 118 310 125 298.7 128"/><path d="M314.6 135.2C322.6 155.2 322.6 202.7 314.6 222.7"/><path d="M314.6 135.2C332.6 155.2 332.6 202.7 314.6 222.7"/><path d="M314.6 135.2C344.6 155.2 344.6 202.7 314.6 222.7"/><path d="M314.6 135.2C308.6 155.2 308.6 202.7 314.6 222.7"/><path d="M314.6 135.2C302.6 155.2 302.6 202.7 314.6 222.7"/><path d="M298.7 129.2C372 105.2 372 242.7 298.7 232.7"/><path d="M298.7 240C320 236 340 240 358 236"/><path d="M298.7 250C320 252 340 256 358 258"/><path d="M65 260.7C70 290 85 330 100 351"/><path d="M95 260.7C100 290 108 330 118 351"/><path d="M122 260.7C115 290 125 320 137.7 335"/><path d="M153 260.7C158 290 150 320 137.7 335"/><path d="M180 260.7C182 300 178 330 172 351"/><path d="M195 260.7C196 300 196 330 195 351"/><path d="M215 260.7C216 300 218 330 220 351"/><path d="M240 260.7C242 300 245 330 250 351"/><path d="M262 260.7C265 290 270 320 265 351"/><path d="M314.6 281C320 281 320 325 314.6 325S309.2 281 314.6 281"/><path d="M314.6 275C326.8 275 326.8 331 314.6 331S302.5 275 314.6 275"/><path d="M314.6 269C334.9 269 334.9 337 314.6 337S294.4 269 314.6 269"/><path d="M314.6 263C343 263 343 343 314.6 343S286.2 263 314.6 263"/><path d="M314.6 258C351.1 258 351.1 348 314.6 348S278.2 258 314.6 258"/><path d="M314.6 253C359.2 253 359.2 353 314.6 353S270.1 253 314.6 253"/></g><path d="M15.5 89.3H73.8M73.8 89.3L80.8 96.3M80.8 97.1H298.7V260.7M82 97.1V222.7M90.3 97.1V135.2M82 135.2H314.6M82 222.7H314.6M15.5 260.7H298.7M137.7 135.2V222.7M314.6 135.2V222.7M137.7 260.7V346.3H314.6V260.7M298.7 260.7H314.6" fill="none" stroke="#1c70d8" stroke-width="1.1"/><path d="M15.6 30V352" stroke="#1a70c0" stroke-width="1.3" opacity="0.9"/><path d="M72.6 88.1h2.4v2.4h-2.4ZM79.6 95.9h2.4v2.4h-2.4ZM89.1 95.9h2.4v2.4h-2.4ZM89.1 134h2.4v2.4h-2.4ZM80.8 134h2.4v2.4h-2.4ZM136.5 134h2.4v2.4h-2.4ZM136.5 221.5h2.4v2.4h-2.4ZM80.8 221.5h2.4v2.4h-2.4ZM297.5 95.9h2.4v2.4h-2.4ZM297.5 134h2.4v2.4h-2.4ZM313.4 134h2.4v2.4h-2.4ZM313.4 221.5h2.4v2.4h-2.4ZM297.5 221.5h2.4v2.4h-2.4ZM297.5 259.5h2.4v2.4h-2.4ZM14.3 88.1h2.4v2.4h-2.4ZM14.3 259.5h2.4v2.4h-2.4ZM136.5 259.5h2.4v2.4h-2.4ZM313.4 259.5h2.4v2.4h-2.4ZM136.5 345.1h2.4v2.4h-2.4ZM313.4 345.1h2.4v2.4h-2.4Z" fill="#103058" opacity="0.85"/></svg></div><div class="gp"><svg class="gr" width="599" height="320" viewBox="374 31 599 320"><path d="M469.5 59.5V291.52H943" class="ax"/><path d="M464 59.5H469.5M464 98.17H469.5M464 136.84H469.5M464 175.51H469.5M464 214.18H469.5M464 252.85H469.5M464 291.52H469.5M469.5 291.52V296.02M537.1 291.52V296.02M604.7 291.52V296.02M672.3 291.52V296.02M739.9 291.52V296.02M807.5 291.52V296.02M875.1 291.52V296.02" class="ax"/><text x="458" y="63.7" text-anchor="end">1.1</text><text x="458" y="102.37" text-anchor="end">1.05</text><text x="458" y="141.04" text-anchor="end">1</text><text x="458" y="179.71" text-anchor="end">0.95</text><text x="458" y="218.38" text-anchor="end">0.9</text><text x="458" y="257.05" text-anchor="end">0.85</text><text x="458" y="295.72" text-anchor="end">0.8</text><text x="469.5" y="310.82" text-anchor="middle">0</text><text x="537.1" y="310.82" text-anchor="middle">1</text><text x="604.7" y="310.82" text-anchor="middle">2</text><text x="672.3" y="310.82" text-anchor="middle">3</text><text x="739.9" y="310.82" text-anchor="middle">4</text><text x="807.5" y="310.82" text-anchor="middle">5</text><text x="875.1" y="310.82" text-anchor="middle">6</text><text x="643" y="329.5" text-anchor="middle" letter-spacing="0.55">Length, mm</text><text x="956.3" y="81.6" letter-spacing="1.6">|B|</text><rect x="971.6" y="81" width="1.6" height="2.6" fill="#e0a060"/><polyline points="469.3,213.3 477,175.7 485.4,146.4 488.5,138.7 505.7,106.3 512.5,102.6 523.3,92.4 534.1,90.3 549.5,86.9 560.3,89.3 592.7,89.3 595.8,88.4 617.3,88.4 620.4,87.2 672.9,87.2 675.9,88.4 716.8,89.2 756.1,89.2 773,87.3 787,87.3 789.8,85.9 795.4,87.3 810.8,85.9 834.7,85.9 840.3,88.1 886.6,88.1 899.2,101.9 914.6,105.5 923.1,113.1 943.5,179.3" class="cv"/></svg></div><div class="tabbar" style="left:15px;width:343.5px"><div class="tab" style="left:0.5px;width:59px"><b class="ti-fem"><svg width="7" height="9" viewBox="0 0 7 9"><rect x="1" y="0.5" width="5" height="8" rx="1" fill="#2a2a2a"/><path d="M2 2.5h3M2 4.5h3M2 6.5h3" stroke="#999" stroke-width="0.8"/></svg></b><span>FEMM_start.FEM</span></div><div class="tab act" style="left:62px;width:58px"><b class="ti-ans"><svg width="10" height="9" viewBox="0 0 10 9"><path d="M1.2 3.2C1 6.5 3 8.2 4.6 6.4C5.6 5.2 4.4 3.2 5.8 2.2C7.2 1.2 9.2 2 9 4C8.8 6 6.6 6.3 6 5" fill="none" stroke="#3a3a48" stroke-width="1.2"/><path d="M2.6 2.4L3.6 1" stroke="#3a3a48" stroke-width="1"/></svg></b><span>FEMM_start.ans</span></div></div><div class="tabbar" style="left:374px;width:599px"><div class="tab" style="left:2px;width:59px"><b class="ti-fem"><svg width="7" height="9" viewBox="0 0 7 9"><rect x="1" y="0.5" width="5" height="8" rx="1" fill="#2a2a2a"/><path d="M2 2.5h3M2 4.5h3M2 6.5h3" stroke="#999" stroke-width="0.8"/></svg></b><span>FEMM_start.FEM</span></div><div class="tab" style="left:63px;width:56px"><b class="ti-ans"><svg width="10" height="9" viewBox="0 0 10 9"><path d="M1.2 3.2C1 6.5 3 8.2 4.6 6.4C5.6 5.2 4.4 3.2 5.8 2.2C7.2 1.2 9.2 2 9 4C8.8 6 6.6 6.3 6 5" fill="none" stroke="#3a3a48" stroke-width="1.2"/><path d="M2.6 2.4L3.6 1" stroke="#3a3a48" stroke-width="1"/></svg></b><span>FEMM_start.ans</span></div><div class="tab act" style="left:121px;width:54px"><b class="ti-xy"><svg width="9" height="9" viewBox="0 0 9 9"><rect x="0.5" y="0.5" width="8" height="8" fill="#c8d0dc" stroke="#505868"/><path d="M1.5 7.5L3.5 3.5L5.5 5.5L7.5 1.5" fill="none" stroke="#283040" stroke-width="1.2"/></svg></b><span>Без названия</span></div></div><div class="st" style="left:0px">(r=112.8000,z=20.2800)</div><div class="st" style="left:358.8px">(x=-0.991177,y=1.03579)</div><div class="tb" style="left:0px;width:358.5px;top:377px"></div><div class="tbs" style="left:0px;top:377px"><i></i><i></i><i></i><i></i></div><div class="tbb" style="left:21.5px;top:377px"><b class="ic-file"></b></div><div class="tbb" style="left:45.3px;top:377px"><b class="ic-opera"></b></div><div class="tbb" style="left:69.1px;top:377px"><b class="ic-media"></b></div><div class="tbb" style="left:92.9px;top:377px"><b class="ic-folder"></b></div><div class="tbb hl" style="left:116.7px;top:377px"><b class="ic-femm"></b></div><div class="tbb" style="left:140.5px;top:377px"><b class="ic-doc"></b></div><div class="tb" style="left:358.5px;width:614.5px;top:377px"></div><div class="tbs" style="left:358.5px;top:377px"><i></i><i></i><i></i><i></i></div><div class="tbb" style="left:380px;top:377px"><b class="ic-file"></b></div><div class="tbb" style="left:403.8px;top:377px"><b class="ic-opera"></b></div><div class="tbb" style="left:427.6px;top:377px"><b class="ic-media"></b></div><div class="tbb" style="left:451.4px;top:377px"><b class="ic-folder"></b></div><div class="tbb hl" style="left:475.2px;top:377px"><b class="ic-femm"></b></div><div class="tbb" style="left:499px;top:377px"><b class="ic-doc"></b></div></div><div class="pn" style="top:1207px"><div class="tt" style="top:-10px"></div><div class="ttx" style="left:313px;top:-10px">femm - [FEM</div><div class="ttx" style="left:674px;top:-10px">femm - [Без названия]</div><div class="tti" style="left:1px;top:-9px"></div><div class="tti" style="left:359.5px;top:-9px"></div><div class="mb" style="left:0;width:358.5px"><span class="mi0"><svg width="10" height="9" viewBox="0 0 10 9"><path d="M1.2 3.2C1 6.5 3 8.2 4.6 6.4C5.6 5.2 4.4 3.2 5.8 2.2C7.2 1.2 9.2 2 9 4C8.8 6 6.6 6.3 6 5" fill="none" stroke="#3a3a48" stroke-width="1.2"/><path d="M2.6 2.4L3.6 1" stroke="#3a3a48" stroke-width="1"/></svg></span><span style="left:15px">File</span><span style="left:31.5px">Edit</span><span style="left:49.5px">Zoom</span><span style="left:73.5px">View</span><span style="left:93.5px">Operation</span><span style="left:128.5px">Plot X-Y</span><span style="left:158.5px">Integrate</span><span style="left:190.5px">Window</span><span style="left:220.5px">Help</span></div><div class="mb" style="left:358.5px;width:614.5px"><span class="mi1"><svg width="9" height="9" viewBox="0 0 9 9"><rect x="0.5" y="0.5" width="8" height="8" fill="#c8d0dc" stroke="#505868"/><path d="M1.5 7.5L3.5 3.5L5.5 5.5L7.5 1.5" fill="none" stroke="#283040" stroke-width="1.2"/></svg></span><span style="left:16px">File</span><span style="left:32px">Edit</span><span style="left:49.5px">View</span><span style="left:70.5px">Window</span><span style="left:100.5px">Help</span></div><div class="tl" style="left:0;width:358.5px"><b class="bt bt-new" style="left:7px"><svg width="10.5" height="11.5" viewBox="0 0 10.5 11.5"><path d="M2.5 1.5h4l2 2v6h-6z" fill="#fff" stroke="#333" stroke-width="0.9"/><path d="M6.5 1.5v2h2" fill="none" stroke="#333" stroke-width="0.7"/></svg></b><b class="bt bt-open" style="left:19px"><svg width="10.5" height="11.5" viewBox="0 0 10.5 11.5"><path d="M1 3.5h3l1 1h4v5H1z" fill="#a09018" stroke="#555" stroke-width="0.6"/><path d="M2 6l1.5-1.5h6.5L8.5 9.5H1z" fill="#d8c848"/></svg></b><b class="bt bt-sel" style="left:40.5px"><svg width="10.5" height="11.5" viewBox="0 0 10.5 11.5"><rect x="4" y="5" width="2.2" height="2.2" fill="#333"/></svg></b><b class="bt bt-line" style="left:52.5px"><svg width="10.5" height="11.5" viewBox="0 0 10.5 11.5"><path d="M2.5 8.5L8 3" stroke="#c04040" stroke-width="1"/><rect x="1.5" y="7.5" width="2" height="2" fill="#111"/><rect x="7" y="2" width="2" height="2" fill="#111"/></svg></b><b class="bt bt-gx" style="left:64.5px"><svg width="10.5" height="11.5" viewBox="0 0 10.5 11.5"><path d="M2 2.5L8.5 9M8.5 2.5L2 9" stroke="#10d010" stroke-width="3"/><rect x="1" y="1.5" width="2" height="2" fill="#111"/><rect x="7.5" y="1.5" width="2" height="2" fill="#111"/><rect x="1" y="8" width="2" height="2" fill="#111"/><rect x="7.5" y="8" width="2" height="2" fill="#111"/></svg></b><b class="bt bt-c1" style="left:81.5px"><svg width="10.5" height="11.5" viewBox="0 0 10.5 11.5"><path d="M2 2v7.5h7" fill="none" stroke="#2850a0" stroke-width="0.9"/><path d="M2.5 5c2-3 4-3 5.5 0.5" fill="none" stroke="#2850a0" stroke-width="0.8"/><path d="M2 9.5h7" stroke="#333" stroke-width="0.8"/></svg></b><b class="bt bt-int" style="left:93.5px"><svg width="10.5" height="11.5" viewBox="0 0 10.5 11.5"><path d="M7 2.3C6 1.4 5 2 4.9 3.5L4.6 8C4.5 9.5 3.5 10 2.6 9.2" fill="none" stroke="#111" stroke-width="1.5"/></svg></b><b class="bt bt-c3" style="left:105.5px"><svg width="10.5" height="11.5" viewBox="0 0 10.5 11.5"><path d="M5.2 2v7" stroke="#555" stroke-width="1"/><path d="M4 4.5h2.4M4 6.5h2.4" stroke="#888" stroke-width="0.8"/></svg></b><b class="bt bt-yel" style="left:122px"><svg width="10.5" height="11.5" viewBox="0 0 10.5 11.5"><rect x="0.5" y="1" width="9" height="9" fill="#f6f088"/></svg></b><b class="bt bt-gry" style="left:134px"><svg width="10.5" height="11.5" viewBox="0 0 10.5 11.5"><rect x="1.5" y="1.5" width="7.5" height="7.5" fill="#9a9a9a" stroke="#333" stroke-width="0.9"/><path d="M2.5 3.5h5.5M2.5 5.5h5.5M2.5 7.5h5.5" stroke="#777" stroke-width="0.6"/></svg></b><b class="bt bt-rbw" style="left:146px"><svg width="10.5" height="11.5" viewBox="0 0 10.5 11.5"><defs><linearGradient id="rbwg" x1="0" y1="0" x2="1" y2="1"><stop offset="0" stop-color="#20b020"/><stop offset="0.35" stop-color="#f0e000"/><stop offset="0.6" stop-color="#e02020"/><stop offset="1" stop-color="#2040e0"/></linearGradient></defs><rect x="1" y="1" width="8.5" height="9" fill="url(#rbwg)" stroke="#333" stroke-width="0.6"/></svg></b><b class="bt bt-arr" style="left:158px"><svg width="10.5" height="11.5" viewBox="0 0 10.5 11.5"><path d="M2 2l5.5 1.8-2 0.6 3 3-1.3 1.3-3-3-0.6 2z" fill="#111"/></svg></b><i class="sep" style="left:35px"></i><i class="sep" style="left:78px"></i><i class="sep" style="left:118px"></i></div><div class="tl" style="left:358.5px;width:614.5px"><b class="bt" style="left:8.5px"><svg width="10.5" height="11.5" viewBox="0 0 10.5 11.5"><path d="M2.5 1.5h4l2 2v6h-6z" fill="#fff" stroke="#333" stroke-width="0.9"/><path d="M6.5 1.5v2h2" fill="none" stroke="#333" stroke-width="0.7"/></svg></b><b class="bt" style="left:20px"><svg width="10.5" height="11.5" viewBox="0 0 10.5 11.5"><path d="M1 3.5h3l1 1h4v5H1z" fill="#a09018" stroke="#555" stroke-width="0.6"/><path d="M2 6l1.5-1.5h6.5L8.5 9.5H1z" fill="#d8c848"/></svg></b></div><div class="vt" style="left:0;width:15px"><b class="vb vb-v1" style="top:8.5px"></b><b class="vb vb-v2" style="top:19.5px"></b><b class="vb vb-zin" style="top:42px"></b><b class="vb vb-zout" style="top:53px"></b><b class="vb vb-zfit" style="top:64.5px"></b><b class="vb vb-zwin" style="top:76.5px"></b><b class="vb vb-up" style="top:90px"></b><b class="vb vb-dn" style="top:101px"></b><b class="vb vb-lf" style="top:113px"></b><b class="vb vb-rt" style="top:124.5px"></b><b class="vb vb-grid" style="top:138.5px"></b><b class="vb vb-pt" style="top:150px"></b><b class="vb vb-cfg" style="top:161px"></b></div><div class="vt" style="left:358.5px;width:15.5px"><b class="vb vb-v1" style="top:8.5px;left:2.5px"></b><b class="vb vb-v2" style="top:19.5px;left:2.5px"></b></div><div class="fp"><svg width="343.5" height="320.5" viewBox="15 30.5 343.5 320.5"><defs><filter id="bl3" x="-50%" y="-50%" width="200%" height="200%"><feGaussianBlur stdDeviation="7"/></filter><filter id="bm3" x="-50%" y="-50%" width="200%" height="200%"><feGaussianBlur stdDeviation="12"/></filter><filter id="bs3" x="-50%" y="-50%" width="200%" height="200%"><feGaussianBlur stdDeviation="3"/></filter><linearGradient id="lb3_0" gradientUnits="userSpaceOnUse" x1="0" y1="129.3" x2="0" y2="300.7"><stop offset="0.0000" stop-color="#b0f038"/><stop offset="0.1044" stop-color="#d0f018"/><stop offset="0.1581" stop-color="#f0f000"/><stop offset="0.2188" stop-color="#ffd800"/><stop offset="0.2725" stop-color="#ffa830"/><stop offset="0.3238" stop-color="#ff7860"/><stop offset="0.3641" stop-color="#ff48a8"/><stop offset="0.4084" stop-color="#ff18e8"/><stop offset="0.4428" stop-color="#ff00ff"/><stop offset="0.7684" stop-color="#ff00ff"/><stop offset="0.8092" stop-color="#ff30d0"/><stop offset="0.8501" stop-color="#ff58a0"/><stop offset="0.8909" stop-color="#ff8858"/><stop offset="0.9259" stop-color="#ffb830"/><stop offset="0.9551" stop-color="#d8f018"/><stop offset="1.0000" stop-color="#b8f038"/></linearGradient><linearGradient id="lb3_1" gradientUnits="userSpaceOnUse" x1="0" y1="129.3" x2="0" y2="300.7"><stop offset="0.0000" stop-color="#c8f020"/><stop offset="0.1109" stop-color="#e8f000"/><stop offset="0.1715" stop-color="#ffe000"/><stop offset="0.2252" stop-color="#ffc010"/><stop offset="0.2789" stop-color="#ff9040"/><stop offset="0.3291" stop-color="#ff6878"/><stop offset="0.3687" stop-color="#ff38c0"/><stop offset="0.4084" stop-color="#ff10f0"/><stop offset="0.4382" stop-color="#ff00ff"/><stop offset="0.7859" stop-color="#ff00ff"/><stop offset="0.8326" stop-color="#ff30d0"/><stop offset="0.8734" stop-color="#ff5898"/><stop offset="0.9142" stop-color="#ff8060"/><stop offset="0.9551" stop-color="#ffa040"/><stop offset="1.0000" stop-color="#ffb030"/></linearGradient><linearGradient id="lb3_2" gradientUnits="userSpaceOnUse" x1="0" y1="129.3" x2="0" y2="300.7"><stop offset="0.0000" stop-color="#e0f000"/><stop offset="0.1249" stop-color="#f8f000"/><stop offset="0.1849" stop-color="#ffd800"/><stop offset="0.2386" stop-color="#ffb020"/><stop offset="0.2923" stop-color="#ff8050"/><stop offset="0.3343" stop-color="#ff5890"/><stop offset="0.3734" stop-color="#ff28d8"/><stop offset="0.4084" stop-color="#ff00ff"/><stop offset="0.7859" stop-color="#ff00ff"/><stop offset="0.8326" stop-color="#ff30d0"/><stop offset="0.8851" stop-color="#ff5898"/><stop offset="0.9317" stop-color="#ff7868"/><stop offset="1.0000" stop-color="#ff9048"/></linearGradient><linearGradient id="lb3_3" gradientUnits="userSpaceOnUse" x1="0" y1="129.3" x2="0" y2="300.7"><stop offset="0.0000" stop-color="#f0f000"/><stop offset="0.1313" stop-color="#ffe800"/><stop offset="0.1919" stop-color="#ffc810"/><stop offset="0.2450" stop-color="#ffa030"/><stop offset="0.2993" stop-color="#ff7860"/><stop offset="0.3390" stop-color="#ff48a8"/><stop offset="0.3786" stop-color="#ff18e8"/><stop offset="0.4084" stop-color="#ff00ff"/><stop offset="0.7917" stop-color="#ff00ff"/><stop offset="0.8384" stop-color="#ff30d0"/><stop offset="0.8967" stop-color="#ff5898"/><stop offset="0.9434" stop-color="#ff7070"/><stop offset="1.0000" stop-color="#ff8858"/></linearGradient><linearGradient id="lb3_4" gradientUnits="userSpaceOnUse" x1="0" y1="129.3" x2="0" y2="300.7"><stop offset="0.0000" stop-color="#f8f000"/><stop offset="0.1383" stop-color="#ffe000"/><stop offset="0.1984" stop-color="#ffc010"/><stop offset="0.2520" stop-color="#ff9840"/><stop offset="0.3057" stop-color="#ff7068"/><stop offset="0.3436" stop-color="#ff40b8"/><stop offset="0.3786" stop-color="#ff10f0"/><stop offset="0.4032" stop-color="#ff00ff"/><stop offset="0.8092" stop-color="#ff00ff"/><stop offset="0.8559" stop-color="#ff30d0"/><stop offset="0.9084" stop-color="#ff5098"/><stop offset="1.0000" stop-color="#ff6878"/></linearGradient><linearGradient id="lb3_5" gradientUnits="userSpaceOnUse" x1="0" y1="129.3" x2="0" y2="300.7"><stop offset="0.0000" stop-color="#ffe800"/><stop offset="0.1313" stop-color="#ffd800"/><stop offset="0.1984" stop-color="#ffb820"/><stop offset="0.2590" stop-color="#ff9040"/><stop offset="0.3121" stop-color="#ff6878"/><stop offset="0.3489" stop-color="#ff38c8"/><stop offset="0.3786" stop-color="#ff00ff"/><stop offset="0.8267" stop-color="#ff00ff"/><stop offset="0.8734" stop-color="#ff28d8"/><stop offset="0.9259" stop-color="#ff4aa8"/><stop offset="1.0000" stop-color="#ff6080"/></linearGradient><linearGradient id="lb3_6" gradientUnits="userSpaceOnUse" x1="0" y1="129.3" x2="0" y2="300.7"><stop offset="0.0000" stop-color="#ffe000"/><stop offset="0.1313" stop-color="#ffd000"/><stop offset="0.2118" stop-color="#ffb020"/><stop offset="0.2725" stop-color="#ff8850"/><stop offset="0.3191" stop-color="#ff6080"/><stop offset="0.3536" stop-color="#ff30d0"/><stop offset="0.3786" stop-color="#ff00ff"/><stop offset="0.8384" stop-color="#ff00ff"/><stop offset="0.8851" stop-color="#ff28d8"/><stop offset="0.9317" stop-color="#ff40b8"/><stop offset="1.0000" stop-color="#ff5890"/></linearGradient><linearGradient id="ta3_0" gradientUnits="userSpaceOnUse" x1="80.8" y1="0" x2="298.7" y2="0"><stop offset="0.0055" stop-color="#ffd800"/><stop offset="0.1340" stop-color="#ffe800"/><stop offset="0.3176" stop-color="#f8f000"/><stop offset="0.4782" stop-color="#d8f018"/><stop offset="0.5929" stop-color="#a8f040"/><stop offset="0.7077" stop-color="#78f070"/><stop offset="0.8224" stop-color="#50f098"/><stop offset="1.0000" stop-color="#38f8c0"/></linearGradient><linearGradient id="ta3_1" gradientUnits="userSpaceOnUse" x1="80.8" y1="0" x2="298.7" y2="0"><stop offset="0.0055" stop-color="#ffc800"/><stop offset="0.1340" stop-color="#ffd800"/><stop offset="0.3176" stop-color="#f8f000"/><stop offset="0.4782" stop-color="#d0f020"/><stop offset="0.5929" stop-color="#a0f048"/><stop offset="0.7077" stop-color="#70f078"/><stop offset="0.8224" stop-color="#50f098"/><stop offset="1.0000" stop-color="#40f8b0"/></linearGradient><linearGradient id="ta3_2" gradientUnits="userSpaceOnUse" x1="80.8" y1="0" x2="298.7" y2="0"><stop offset="0.0055" stop-color="#ffb010"/><stop offset="0.0881" stop-color="#ffc010"/><stop offset="0.2258" stop-color="#ffd800"/><stop offset="0.3635" stop-color="#f0f000"/><stop offset="0.5011" stop-color="#c8f028"/><stop offset="0.6159" stop-color="#98f050"/><stop offset="0.7306" stop-color="#68f080"/><stop offset="0.8683" stop-color="#48f0a0"/><stop offset="1.0000" stop-color="#40f8a8"/></linearGradient><linearGradient id="ba3" gradientUnits="userSpaceOnUse" x1="82" y1="0" x2="298.7" y2="0"><stop offset="0.0000" stop-color="#ff20e0"/><stop offset="0.0231" stop-color="#ff40b8"/><stop offset="0.0554" stop-color="#ff6080"/><stop offset="0.0969" stop-color="#ff8050"/><stop offset="0.1523" stop-color="#ffa030"/><stop offset="0.1984" stop-color="#ffb820"/><stop offset="0.2446" stop-color="#ffcc10"/><stop offset="0.3138" stop-color="#ffe000"/><stop offset="0.3830" stop-color="#f0f000"/><stop offset="0.4338" stop-color="#d0f020"/><stop offset="0.5215" stop-color="#a8f038"/><stop offset="0.6138" stop-color="#80f060"/><stop offset="0.7291" stop-color="#58f090"/><stop offset="0.8676" stop-color="#40f8b0"/><stop offset="1.0000" stop-color="#30f8c0"/></linearGradient><linearGradient id="bs3_0" gradientUnits="userSpaceOnUse" x1="82" y1="0" x2="298.7" y2="0"><stop offset="0.0000" stop-color="#ff50a0"/><stop offset="0.0277" stop-color="#ff9040"/><stop offset="0.0831" stop-color="#ffb020"/><stop offset="0.1754" stop-color="#ffc810"/><stop offset="0.2677" stop-color="#ffd800"/><stop offset="0.3599" stop-color="#f0f000"/><stop offset="0.4522" stop-color="#d0f020"/><stop offset="0.5445" stop-color="#a8f038"/><stop offset="0.6368" stop-color="#80f060"/><stop offset="0.7522" stop-color="#58f090"/><stop offset="0.8676" stop-color="#40f8b0"/><stop offset="1.0000" stop-color="#30f8c0"/></linearGradient><linearGradient id="bs3_1" gradientUnits="userSpaceOnUse" x1="82" y1="0" x2="298.7" y2="0"><stop offset="0.0000" stop-color="#ff20e0"/><stop offset="0.0369" stop-color="#ff5098"/><stop offset="0.0831" stop-color="#ff7860"/><stop offset="0.1523" stop-color="#ff9838"/><stop offset="0.2215" stop-color="#ffb020"/><stop offset="0.3138" stop-color="#ffd000"/><stop offset="0.4061" stop-color="#f0f000"/><stop offset="0.4984" stop-color="#c8f028"/><stop offset="0.5907" stop-color="#98f050"/><stop offset="0.7060" stop-color="#68f080"/><stop offset="0.8445" stop-color="#44f8a8"/><stop offset="1.0000" stop-color="#30f8c0"/></linearGradient><linearGradient id="bs3_2" gradientUnits="userSpaceOnUse" x1="82" y1="0" x2="298.7" y2="0"><stop offset="0.0000" stop-color="#ff10f0"/><stop offset="0.0461" stop-color="#ff38c0"/><stop offset="0.1061" stop-color="#ff6080"/><stop offset="0.1754" stop-color="#ff8850"/><stop offset="0.2677" stop-color="#ffa830"/><stop offset="0.3599" stop-color="#ffc818"/><stop offset="0.4522" stop-color="#f0f000"/><stop offset="0.5445" stop-color="#c0f030"/><stop offset="0.6599" stop-color="#88f060"/><stop offset="0.7983" stop-color="#50f098"/><stop offset="1.0000" stop-color="#30f8c0"/></linearGradient><clipPath id="cba3"><rect x="82" y="262.7" width="216.7" height="38"/></clipPath><filter id="hb3" x="-20%" y="-20%" width="140%" height="140%"><feGaussianBlur stdDeviation="3.5 0"/></filter><filter id="vb3" x="-20%" y="-50%" width="140%" height="200%"><feGaussianBlur stdDeviation="0 3"/></filter><clipPath id="clb3"><rect x="15.5" y="129.3" width="67.1" height="171.4"/></clipPath><clipPath id="cta3"><rect x="80.8" y="137.1" width="217.9" height="38.1"/></clipPath><clipPath id="cvc3"><rect x="82" y="175.2" width="232.6" height="87.5"/></clipPath><linearGradient id="cv3" gradientUnits="userSpaceOnUse" x1="82" y1="0" x2="137.7" y2="0"><stop offset="0" stop-color="#00ffff"/><stop offset="0.5" stop-color="#08fff0"/><stop offset="1" stop-color="#20ffd0"/></linearGradient></defs><rect x="0" y="0" width="400" height="400" fill="#00ffff"/><g filter="url(#bl3)"><ellipse cx="52" cy="117.3" rx="52" ry="34" fill="#58f094"/><ellipse cx="84" cy="134.1" rx="18" ry="12" fill="#a0f048"/><rect x="118" y="181.2" width="190" height="75.5" fill="#40ffa8"/><ellipse cx="318" cy="218.9" rx="20" ry="44" fill="#38ffb0" opacity="0.9"/></g><rect x="15.5" y="112.5" width="54.9" height="16.3" fill="#60f090"/><rect x="82" y="175.2" width="55.7" height="87.5" fill="url(#cv3)"/><rect x="137.7" y="175.2" width="176.9" height="87.5" fill="#48ff96"/><g clip-path="url(#cvc3)"><g filter="url(#bs3)"><ellipse cx="90" cy="177.2" rx="16" ry="14" fill="#a0f048" opacity="0.85"/></g></g><g clip-path="url(#clb3)"><g filter="url(#hb3)"><rect x="3.5" y="129.3" width="20.3" height="171.4" fill="url(#lb3_0)"/><rect x="23.5" y="129.3" width="11.3" height="171.4" fill="url(#lb3_1)"/><rect x="34.5" y="129.3" width="11.3" height="171.4" fill="url(#lb3_2)"/><rect x="45.5" y="129.3" width="11.3" height="171.4" fill="url(#lb3_3)"/><rect x="56.5" y="129.3" width="11.3" height="171.4" fill="url(#lb3_4)"/><rect x="67.5" y="129.3" width="9.3" height="171.4" fill="url(#lb3_5)"/><rect x="76.5" y="129.3" width="17.8" height="171.4" fill="url(#lb3_6)"/></g></g><path d="M73.8 129.3L82.6 129.3L82.6 136.6Z" fill="#b8f040"/><g clip-path="url(#cba3)"><g filter="url(#vb3)"><rect x="82" y="254.7" width="216.7" height="20.3" fill="url(#bs3_0)"/><rect x="82" y="274.7" width="216.7" height="13.3" fill="url(#bs3_1)"/><rect x="82" y="287.7" width="216.7" height="21.3" fill="url(#bs3_2)"/></g></g><g clip-path="url(#cta3)"><g filter="url(#vb3)"><rect x="80.8" y="129.1" width="217.9" height="21.2" fill="url(#ta3_0)"/><rect x="80.8" y="150" width="217.9" height="13.3" fill="url(#ta3_1)"/><rect x="80.8" y="163" width="217.9" height="20.5" fill="url(#ta3_2)"/></g></g><g fill="none" stroke="#06261a" stroke-opacity="0.6" stroke-width="1.05"><path d="M152.2 218.9L154.7 175.2C154.7 173.5 151.3 172.4 145.7 172.4L82.3 172.4C81.2 172.4 80.3 173.3 80.3 174.4L80.3 263.7C80.3 264.8 81.2 265.7 82.3 265.7L145.7 265.7C151.3 265.7 154.7 263.8 154.7 262.7Z"/><path d="M166.1 218.9L168 175.2C168 171.2 160.7 168.8 148.8 168.8L81.4 168.8C79.4 168.8 77.8 170.4 77.8 172.4L77.8 265.2C77.8 267.2 79.4 268.8 81.4 268.8L148.5 268.8C160.6 268.8 168 265 168 262.7Z"/><path d="M178.5 218.9L179.9 175.2C179.9 169 168.7 165.2 150.4 165.2L81 165.2C77.7 165.2 75 167.9 75 171.1L75 266.1C75 269.3 77.7 272 81 272L149.8 272C168.4 272 179.9 266.2 179.9 262.7Z"/><path d="M190.1 218.9L190.9 175.2C190.9 166.7 175.9 161.5 151.3 161.5L80.4 161.5C75.4 161.5 71.4 165.5 71.4 170.5L71.4 266.2C71.4 271.2 75.4 275.2 80.4 275.2L150.3 275.2C175.5 275.2 190.9 267.4 190.9 262.7Z"/><path d="M201.2 218.9L201.5 175.2C201.5 164.4 182.5 157.8 151.6 157.8L79.8 157.8C72.8 157.8 67.2 163.4 67.2 170.4L67.2 265.9C67.2 272.9 72.8 278.5 79.8 278.5L150.3 278.5C182 278.5 201.5 268.7 201.5 262.7Z"/><path d="M211.4 218.9L211.1 175.2C211.1 162.1 188.3 154.1 151 154.1L79 154.1C69.7 154.1 62.2 161.6 62.2 170.9L62.2 265.2C62.2 274.5 69.7 282 79 282L149.3 282C187.6 282 211.1 270 211.1 262.7Z"/><path d="M221.6 218.9L220.8 175.2C220.8 159.8 194 150.4 150.4 150.4L78.1 150.4C65.8 150.4 55.8 160.4 55.8 172.7L55.8 263.1C55.8 275.4 65.8 285.4 78.1 285.4L148.4 285.4C193.3 285.4 220.8 271.3 220.8 262.7Z"/><path d="M231.4 218.9L230 175.2C230 157.5 199.4 146.7 149.5 146.7L74.6 146.7C60.2 146.7 48.6 158.3 48.6 172.7L48.6 262.8C48.6 277.2 60.2 288.8 74.6 288.8L147.1 288.8C198.5 288.8 230 272.6 230 262.7Z"/><path d="M240.6 218.9L238.7 175.2C238.7 155.2 204.2 143 147.9 143L66.8 143C52.4 143 40.8 154.6 40.8 169L40.8 266.3C40.8 280.7 52.4 292.3 66.8 292.3L145.2 292.3C203.1 292.3 238.7 273.9 238.7 262.7Z"/><path d="M249.3 218.9L246.8 175.2C246.8 152.9 208.4 139.3 145.8 139.3L56.5 139.3C42.1 139.3 30.5 150.9 30.5 165.3L30.5 270.2C30.5 284.6 42.1 296.2 56.5 296.2L142.8 296.2C207.3 296.2 246.8 275.4 246.8 262.7Z"/><path d="M253.6 137.1C255.6 152.1 257.6 160.2 257.6 175.2C255.6 200.2 255.6 237.7 257.6 262.7C257.6 277.7 255.6 285.7 253.6 300.7"/><path d="M262.5 137.1C264 152.1 266 160.2 266 175.2C262.7 200.2 262.7 237.7 266 262.7C266 277.7 264 285.7 262.5 300.7"/><path d="M270.4 137.1C271.4 152.1 273.4 160.2 273.4 175.2C268.8 200.2 268.8 237.7 273.4 262.7C273.4 277.7 271.4 285.7 270.4 300.7"/><path d="M278.3 137.1C278.8 152.1 280.8 160.2 280.8 175.2C274.9 200.2 274.9 237.7 280.8 262.7C280.8 277.7 278.8 285.7 278.3 300.7"/><path d="M285.2 137.1C285.2 152.1 287.2 160.2 287.2 175.2C280 200.2 280 237.7 287.2 262.7C287.2 277.7 285.2 285.7 285.2 300.7"/><path d="M291.3 137.1C290.8 152.1 292.8 160.2 292.8 175.2C284.3 200.2 284.3 237.7 292.8 262.7C292.8 277.7 290.8 285.7 291.3 300.7"/><path d="M82 189.2C96 191.2 103 183.2 102 175.2"/><path d="M112 175.2C104 215.2 96 232.7 98 262.7"/><path d="M66 106.5C73 106.5 77 112 77 119C77 126 74 131 68 130.5C61 130 58 126 58 119C58 112 61 106.5 66 106.5Z"/><path d="M70.4 128.8C76 126.3 80 131.3 81.8 137.1"/><path d="M195.8 31C190 70 178 110 176.8 137.1"/><path d="M328.9 31C300 70 270 110 262.4 137.1"/><path d="M358 95C335 100 305 120 294.7 137.1"/><path d="M358 140C335 138 315 140 298.7 144.1"/><path d="M298.7 165.2C315 158.2 335 162.2 358 174.2"/><path d="M314.6 175.2C333.6 193.2 333.6 244.7 314.6 262.7"/><path d="M314.6 175.2C303.6 193.2 303.6 244.7 314.6 262.7"/><path d="M314.6 175.2C295.6 193.2 295.6 244.7 314.6 262.7"/><path d="M298.7 167.2C365 157.2 365 280.7 298.7 272.7"/><path d="M298.7 271.7C315 275.7 335 271.7 358 260.7"/><path d="M298.7 294.7C320 302.7 340 298.7 358 304.7"/><path d="M188 300.7C189 320 190 340 190 351"/><path d="M262 300.7C265 320 275 340 281 351"/><path d="M291 300.7C300 315.7 330 330.7 358 345.7"/></g><path d="M15.5 129.3H73.8M73.8 129.3L80.8 136.3M80.8 137.1H298.7V300.7M82 137.1V262.7M90.3 137.1V175.2M82 175.2H314.6M82 262.7H314.6M15.5 300.7H298.7M137.7 175.2V262.7M314.6 175.2V262.7M15.5 112.5H70.4V129.3" fill="none" stroke="#1c70d8" stroke-width="1.1"/><path d="M15.6 30V352" stroke="#1a70c0" stroke-width="1.3" opacity="0.9"/><path d="M72.6 128.1h2.4v2.4h-2.4ZM79.6 135.9h2.4v2.4h-2.4ZM89.1 135.9h2.4v2.4h-2.4ZM89.1 174h2.4v2.4h-2.4ZM80.8 174h2.4v2.4h-2.4ZM136.5 174h2.4v2.4h-2.4ZM136.5 261.5h2.4v2.4h-2.4ZM80.8 261.5h2.4v2.4h-2.4ZM297.5 135.9h2.4v2.4h-2.4ZM297.5 174h2.4v2.4h-2.4ZM313.4 174h2.4v2.4h-2.4ZM313.4 261.5h2.4v2.4h-2.4ZM297.5 261.5h2.4v2.4h-2.4ZM297.5 299.5h2.4v2.4h-2.4ZM14.3 128.1h2.4v2.4h-2.4ZM14.3 299.5h2.4v2.4h-2.4ZM69.2 111.3h2.4v2.4h-2.4ZM69.2 128.1h2.4v2.4h-2.4Z" fill="#103058" opacity="0.85"/></svg></div><div class="gp"><svg class="gr" width="599" height="320" viewBox="374 31 599 320"><path d="M469.5 59.5V291.52H943" class="ax"/><path d="M464 59.5H469.5M464 98.17H469.5M464 136.84H469.5M464 175.51H469.5M464 214.18H469.5M464 252.85H469.5M464 291.52H469.5M469.5 291.52V296.02M537.1 291.52V296.02M604.7 291.52V296.02M672.3 291.52V296.02M739.9 291.52V296.02M807.5 291.52V296.02M875.1 291.52V296.02" class="ax"/><text x="458" y="63.7" text-anchor="end">1.2</text><text x="458" y="102.37" text-anchor="end">1.15</text><text x="458" y="141.04" text-anchor="end">1.1</text><text x="458" y="179.71" text-anchor="end">1.05</text><text x="458" y="218.38" text-anchor="end">1</text><text x="458" y="257.05" text-anchor="end">0.95</text><text x="458" y="295.72" text-anchor="end">0.9</text><text x="469.5" y="310.82" text-anchor="middle">0</text><text x="537.1" y="310.82" text-anchor="middle">1</text><text x="604.7" y="310.82" text-anchor="middle">2</text><text x="672.3" y="310.82" text-anchor="middle">3</text><text x="739.9" y="310.82" text-anchor="middle">4</text><text x="807.5" y="310.82" text-anchor="middle">5</text><text x="875.1" y="310.82" text-anchor="middle">6</text><text x="643" y="329.5" text-anchor="middle" letter-spacing="0.55">Length, mm</text><text x="956.3" y="81.6" letter-spacing="1.6">|B|</text><rect x="971.6" y="81" width="1.6" height="2.6" fill="#e0a060"/><polyline points="470.9,260.4 487.2,189.5 490.9,178.7 503.9,143.2 512.5,137 527.9,132.4 543.3,128.1 552.6,126.9 568,123.8 592.7,120.1 614.3,119.2 632.8,119.2 654.4,123.8 682.1,128.4 691.4,127.8 711.2,126 733.7,123.7 831.9,124.5 834.7,125.1 848.7,121.7 874,123.7 883.8,127.4 892.2,136.6 902,140.5 918.9,146.4 931.5,170.8 944.7,213.5" class="cv"/></svg></div><div class="tabbar" style="left:15px;width:343.5px"><div class="tab" style="left:0.5px;width:59px"><b class="ti-fem"><svg width="7" height="9" viewBox="0 0 7 9"><rect x="1" y="0.5" width="5" height="8" rx="1" fill="#2a2a2a"/><path d="M2 2.5h3M2 4.5h3M2 6.5h3" stroke="#999" stroke-width="0.8"/></svg></b><span>FEMM_start.FEM</span></div><div class="tab act" style="left:62px;width:58px"><b class="ti-ans"><svg width="10" height="9" viewBox="0 0 10 9"><path d="M1.2 3.2C1 6.5 3 8.2 4.6 6.4C5.6 5.2 4.4 3.2 5.8 2.2C7.2 1.2 9.2 2 9 4C8.8 6 6.6 6.3 6 5" fill="none" stroke="#3a3a48" stroke-width="1.2"/><path d="M2.6 2.4L3.6 1" stroke="#3a3a48" stroke-width="1"/></svg></b><span>FEMM_start.ans</span></div></div><div class="tabbar" style="left:374px;width:599px"><div class="tab" style="left:2px;width:59px"><b class="ti-fem"><svg width="7" height="9" viewBox="0 0 7 9"><rect x="1" y="0.5" width="5" height="8" rx="1" fill="#2a2a2a"/><path d="M2 2.5h3M2 4.5h3M2 6.5h3" stroke="#999" stroke-width="0.8"/></svg></b><span>FEMM_start.FEM</span></div><div class="tab" style="left:63px;width:56px"><b class="ti-ans"><svg width="10" height="9" viewBox="0 0 10 9"><path d="M1.2 3.2C1 6.5 3 8.2 4.6 6.4C5.6 5.2 4.4 3.2 5.8 2.2C7.2 1.2 9.2 2 9 4C8.8 6 6.6 6.3 6 5" fill="none" stroke="#3a3a48" stroke-width="1.2"/><path d="M2.6 2.4L3.6 1" stroke="#3a3a48" stroke-width="1"/></svg></b><span>FEMM_start.ans</span></div><div class="tab act" style="left:121px;width:54px"><b class="ti-xy"><svg width="9" height="9" viewBox="0 0 9 9"><rect x="0.5" y="0.5" width="8" height="8" fill="#c8d0dc" stroke="#505868"/><path d="M1.5 7.5L3.5 3.5L5.5 5.5L7.5 1.5" fill="none" stroke="#283040" stroke-width="1.2"/></svg></b><span>Без названия</span></div></div><div class="st" style="left:0px">(r=96.7000,z=32.0010)</div><div class="st" style="left:358.8px">(x=8.836,y=1.23465)</div><div class="tb" style="left:0px;width:358.5px;top:377px"></div><div class="tbs" style="left:0px;top:377px"><i></i><i></i><i></i><i></i></div><div class="tbb" style="left:21.5px;top:377px"><b class="ic-file"></b></div><div class="tbb" style="left:45.3px;top:377px"><b class="ic-opera"></b></div><div class="tbb" style="left:69.1px;top:377px"><b class="ic-media"></b></div><div class="tbb" style="left:92.9px;top:377px"><b class="ic-folder"></b></div><div class="tbb hl" style="left:116.7px;top:377px"><b class="ic-femm"></b></div><div class="tbb" style="left:140.5px;top:377px"><b class="ic-doc"></b></div><div class="tb" style="left:358.5px;width:614.5px;top:377px"></div><div class="tbs" style="left:358.5px;top:377px"><i></i><i></i><i></i><i></i></div><div class="tbb" style="left:380px;top:377px"><b class="ic-file"></b></div><div class="tbb" style="left:403.8px;top:377px"><b class="ic-opera"></b></div><div class="tbb" style="left:427.6px;top:377px"><b class="ic-media"></b></div><div class="tbb" style="left:451.4px;top:377px"><b class="ic-folder"></b></div><div class="tbb hl" style="left:475.2px;top:377px"><b class="ic-femm"></b></div><div class="tbb" style="left:499px;top:377px"><b class="ic-doc"></b></div></div><div class="pn" style="top:1609px"><div class="tt" style="top:-10px"></div><div class="ttx" style="left:313px;top:-10px">femm - [FEM</div><div class="ttx" style="left:674px;top:-10px">femm - [Без названия]</div><div class="tti" style="left:1px;top:-9px"></div><div class="tti" style="left:359.5px;top:-9px"></div><div class="mb" style="left:0;width:358.5px"><span class="mi0"><svg width="10" height="9" viewBox="0 0 10 9"><path d="M1.2 3.2C1 6.5 3 8.2 4.6 6.4C5.6 5.2 4.4 3.2 5.8 2.2C7.2 1.2 9.2 2 9 4C8.8 6 6.6 6.3 6 5" fill="none" stroke="#3a3a48" stroke-width="1.2"/><path d="M2.6 2.4L3.6 1" stroke="#3a3a48" stroke-width="1"/></svg></span><span style="left:15px">File</span><span style="left:31.5px">Edit</span><span style="left:49.5px">Zoom</span><span style="left:73.5px">View</span><span style="left:93.5px">Operation</span><span style="left:128.5px">Plot X-Y</span><span style="left:158.5px">Integrate</span><span style="left:190.5px">Window</span><span style="left:220.5px">Help</span></div><div class="mb" style="left:358.5px;width:614.5px"><span class="mi1"><svg width="9" height="9" viewBox="0 0 9 9"><rect x="0.5" y="0.5" width="8" height="8" fill="#c8d0dc" stroke="#505868"/><path d="M1.5 7.5L3.5 3.5L5.5 5.5L7.5 1.5" fill="none" stroke="#283040" stroke-width="1.2"/></svg></span><span style="left:16px">File</span><span style="left:32px">Edit</span><span style="left:49.5px">View</span><span style="left:70.5px">Window</span><span style="left:100.5px">Help</span></div><div class="tl" style="left:0;width:358.5px"><b class="bt bt-new" style="left:7px"><svg width="10.5" height="11.5" viewBox="0 0 10.5 11.5"><path d="M2.5 1.5h4l2 2v6h-6z" fill="#fff" stroke="#333" stroke-width="0.9"/><path d="M6.5 1.5v2h2" fill="none" stroke="#333" stroke-width="0.7"/></svg></b><b class="bt bt-open" style="left:19px"><svg width="10.5" height="11.5" viewBox="0 0 10.5 11.5"><path d="M1 3.5h3l1 1h4v5H1z" fill="#a09018" stroke="#555" stroke-width="0.6"/><path d="M2 6l1.5-1.5h6.5L8.5 9.5H1z" fill="#d8c848"/></svg></b><b class="bt bt-sel" style="left:40.5px"><svg width="10.5" height="11.5" viewBox="0 0 10.5 11.5"><rect x="4" y="5" width="2.2" height="2.2" fill="#333"/></svg></b><b class="bt bt-line" style="left:52.5px"><svg width="10.5" height="11.5" viewBox="0 0 10.5 11.5"><path d="M2.5 8.5L8 3" stroke="#c04040" stroke-width="1"/><rect x="1.5" y="7.5" width="2" height="2" fill="#111"/><rect x="7" y="2" width="2" height="2" fill="#111"/></svg></b><b class="bt bt-gx" style="left:64.5px"><svg width="10.5" height="11.5" viewBox="0 0 10.5 11.5"><path d="M2 2.5L8.5 9M8.5 2.5L2 9" stroke="#10d010" stroke-width="3"/><rect x="1" y="1.5" width="2" height="2" fill="#111"/><rect x="7.5" y="1.5" width="2" height="2" fill="#111"/><rect x="1" y="8" width="2" height="2" fill="#111"/><rect x="7.5" y="8" width="2" height="2" fill="#111"/></svg></b><b class="bt bt-c1" style="left:81.5px"><svg width="10.5" height="11.5" viewBox="0 0 10.5 11.5"><path d="M2 2v7.5h7" fill="none" stroke="#2850a0" stroke-width="0.9"/><path d="M2.5 5c2-3 4-3 5.5 0.5" fill="none" stroke="#2850a0" stroke-width="0.8"/><path d="M2 9.5h7" stroke="#333" stroke-width="0.8"/></svg></b><b class="bt bt-int" style="left:93.5px"><svg width="10.5" height="11.5" viewBox="0 0 10.5 11.5"><path d="M7 2.3C6 1.4 5 2 4.9 3.5L4.6 8C4.5 9.5 3.5 10 2.6 9.2" fill="none" stroke="#111" stroke-width="1.5"/></svg></b><b class="bt bt-c3" style="left:105.5px"><svg width="10.5" height="11.5" viewBox="0 0 10.5 11.5"><path d="M5.2 2v7" stroke="#555" stroke-width="1"/><path d="M4 4.5h2.4M4 6.5h2.4" stroke="#888" stroke-width="0.8"/></svg></b><b class="bt bt-yel" style="left:122px"><svg width="10.5" height="11.5" viewBox="0 0 10.5 11.5"><rect x="0.5" y="1" width="9" height="9" fill="#f6f088"/></svg></b><b class="bt bt-gry" style="left:134px"><svg width="10.5" height="11.5" viewBox="0 0 10.5 11.5"><rect x="1.5" y="1.5" width="7.5" height="7.5" fill="#9a9a9a" stroke="#333" stroke-width="0.9"/><path d="M2.5 3.5h5.5M2.5 5.5h5.5M2.5 7.5h5.5" stroke="#777" stroke-width="0.6"/></svg></b><b class="bt bt-rbw" style="left:146px"><svg width="10.5" height="11.5" viewBox="0 0 10.5 11.5"><defs><linearGradient id="rbwg" x1="0" y1="0" x2="1" y2="1"><stop offset="0" stop-color="#20b020"/><stop offset="0.35" stop-color="#f0e000"/><stop offset="0.6" stop-color="#e02020"/><stop offset="1" stop-color="#2040e0"/></linearGradient></defs><rect x="1" y="1" width="8.5" height="9" fill="url(#rbwg)" stroke="#333" stroke-width="0.6"/></svg></b><b class="bt bt-arr" style="left:158px"><svg width="10.5" height="11.5" viewBox="0 0 10.5 11.5"><path d="M2 2l5.5 1.8-2 0.6 3 3-1.3 1.3-3-3-0.6 2z" fill="#111"/></svg></b><i class="sep" style="left:35px"></i><i class="sep" style="left:78px"></i><i class="sep" style="left:118px"></i></div><div class="tl" style="left:358.5px;width:614.5px"><b class="bt" style="left:8.5px"><svg width="10.5" height="11.5" viewBox="0 0 10.5 11.5"><path d="M2.5 1.5h4l2 2v6h-6z" fill="#fff" stroke="#333" stroke-width="0.9"/><path d="M6.5 1.5v2h2" fill="none" stroke="#333" stroke-width="0.7"/></svg></b><b class="bt" style="left:20px"><svg width="10.5" height="11.5" viewBox="0 0 10.5 11.5"><path d="M1 3.5h3l1 1h4v5H1z" fill="#a09018" stroke="#555" stroke-width="0.6"/><path d="M2 6l1.5-1.5h6.5L8.5 9.5H1z" fill="#d8c848"/></svg></b></div><div class="vt" style="left:0;width:15px"><b class="vb vb-v1" style="top:8.5px"></b><b class="vb vb-v2" style="top:19.5px"></b><b class="vb vb-zin" style="top:42px"></b><b class="vb vb-zout" style="top:53px"></b><b class="vb vb-zfit" style="top:64.5px"></b><b class="vb vb-zwin" style="top:76.5px"></b><b class="vb vb-up" style="top:90px"></b><b class="vb vb-dn" style="top:101px"></b><b class="vb vb-lf" style="top:113px"></b><b class="vb vb-rt" style="top:124.5px"></b><b class="vb vb-grid" style="top:138.5px"></b><b class="vb vb-pt" style="top:150px"></b><b class="vb vb-cfg" style="top:161px"></b></div><div class="vt" style="left:358.5px;width:15.5px"><b class="vb vb-v1" style="top:8.5px;left:2.5px"></b><b class="vb vb-v2" style="top:19.5px;left:2.5px"></b></div><div class="fp"><svg width="343.5" height="320.5" viewBox="15 30.5 343.5 320.5"><defs><filter id="bl4" x="-50%" y="-50%" width="200%" height="200%"><feGaussianBlur stdDeviation="7"/></filter><filter id="bm4" x="-50%" y="-50%" width="200%" height="200%"><feGaussianBlur stdDeviation="12"/></filter><filter id="bs4" x="-50%" y="-50%" width="200%" height="200%"><feGaussianBlur stdDeviation="3"/></filter><linearGradient id="lb4_0" gradientUnits="userSpaceOnUse" x1="0" y1="89.3" x2="0" y2="260.7"><stop offset="0.0000" stop-color="#b0f038"/><stop offset="0.0928" stop-color="#d0f018"/><stop offset="0.1464" stop-color="#f0f000"/><stop offset="0.2071" stop-color="#ffd800"/><stop offset="0.2608" stop-color="#ffa830"/><stop offset="0.3121" stop-color="#ff7860"/><stop offset="0.3524" stop-color="#ff48a8"/><stop offset="0.3967" stop-color="#ff18e8"/><stop offset="0.4312" stop-color="#ff00ff"/><stop offset="0.7800" stop-color="#ff00ff"/><stop offset="0.8209" stop-color="#ff30d0"/><stop offset="0.8617" stop-color="#ff58a0"/><stop offset="0.9026" stop-color="#ff8858"/><stop offset="0.9376" stop-color="#ffb830"/><stop offset="0.9667" stop-color="#d8f018"/><stop offset="1.0000" stop-color="#b8f038"/></linearGradient><linearGradient id="lb4_1" gradientUnits="userSpaceOnUse" x1="0" y1="89.3" x2="0" y2="260.7"><stop offset="0.0000" stop-color="#c8f020"/><stop offset="0.0992" stop-color="#e8f000"/><stop offset="0.1599" stop-color="#ffe000"/><stop offset="0.2135" stop-color="#ffc010"/><stop offset="0.2672" stop-color="#ff9040"/><stop offset="0.3174" stop-color="#ff6878"/><stop offset="0.3571" stop-color="#ff38c0"/><stop offset="0.3967" stop-color="#ff10f0"/><stop offset="0.4265" stop-color="#ff00ff"/><stop offset="0.7975" stop-color="#ff00ff"/><stop offset="0.8442" stop-color="#ff30d0"/><stop offset="0.8851" stop-color="#ff5898"/><stop offset="0.9259" stop-color="#ff8060"/><stop offset="0.9667" stop-color="#ffa040"/><stop offset="1.0000" stop-color="#ffb030"/></linearGradient><linearGradient id="lb4_2" gradientUnits="userSpaceOnUse" x1="0" y1="89.3" x2="0" y2="260.7"><stop offset="0.0000" stop-color="#e0f000"/><stop offset="0.1132" stop-color="#f8f000"/><stop offset="0.1733" stop-color="#ffd800"/><stop offset="0.2270" stop-color="#ffb020"/><stop offset="0.2806" stop-color="#ff8050"/><stop offset="0.3226" stop-color="#ff5890"/><stop offset="0.3617" stop-color="#ff28d8"/><stop offset="0.3967" stop-color="#ff00ff"/><stop offset="0.7975" stop-color="#ff00ff"/><stop offset="0.8442" stop-color="#ff30d0"/><stop offset="0.8967" stop-color="#ff5898"/><stop offset="0.9434" stop-color="#ff7868"/><stop offset="1.0000" stop-color="#ff9048"/></linearGradient><linearGradient id="lb4_3" gradientUnits="userSpaceOnUse" x1="0" y1="89.3" x2="0" y2="260.7"><stop offset="0.0000" stop-color="#f0f000"/><stop offset="0.1196" stop-color="#ffe800"/><stop offset="0.1803" stop-color="#ffc810"/><stop offset="0.2334" stop-color="#ffa030"/><stop offset="0.2876" stop-color="#ff7860"/><stop offset="0.3273" stop-color="#ff48a8"/><stop offset="0.3670" stop-color="#ff18e8"/><stop offset="0.3967" stop-color="#ff00ff"/><stop offset="0.8034" stop-color="#ff00ff"/><stop offset="0.8501" stop-color="#ff30d0"/><stop offset="0.9084" stop-color="#ff5898"/><stop offset="0.9551" stop-color="#ff7070"/><stop offset="1.0000" stop-color="#ff8858"/></linearGradient><linearGradient id="lb4_4" gradientUnits="userSpaceOnUse" x1="0" y1="89.3" x2="0" y2="260.7"><stop offset="0.0000" stop-color="#f8f000"/><stop offset="0.1266" stop-color="#ffe000"/><stop offset="0.1867" stop-color="#ffc010"/><stop offset="0.2404" stop-color="#ff9840"/><stop offset="0.2940" stop-color="#ff7068"/><stop offset="0.3320" stop-color="#ff40b8"/><stop offset="0.3670" stop-color="#ff10f0"/><stop offset="0.3915" stop-color="#ff00ff"/><stop offset="0.8209" stop-color="#ff00ff"/><stop offset="0.8676" stop-color="#ff30d0"/><stop offset="0.9201" stop-color="#ff5098"/><stop offset="1.0000" stop-color="#ff6878"/></linearGradient><linearGradient id="lb4_5" gradientUnits="userSpaceOnUse" x1="0" y1="89.3" x2="0" y2="260.7"><stop offset="0.0000" stop-color="#ffe800"/><stop offset="0.1196" stop-color="#ffd800"/><stop offset="0.1867" stop-color="#ffb820"/><stop offset="0.2474" stop-color="#ff9040"/><stop offset="0.3005" stop-color="#ff6878"/><stop offset="0.3372" stop-color="#ff38c8"/><stop offset="0.3670" stop-color="#ff00ff"/><stop offset="0.8384" stop-color="#ff00ff"/><stop offset="0.8851" stop-color="#ff28d8"/><stop offset="0.9376" stop-color="#ff4aa8"/><stop offset="1.0000" stop-color="#ff6080"/></linearGradient><linearGradient id="lb4_6" gradientUnits="userSpaceOnUse" x1="0" y1="89.3" x2="0" y2="260.7"><stop offset="0.0000" stop-color="#ffe000"/><stop offset="0.1196" stop-color="#ffd000"/><stop offset="0.2001" stop-color="#ffb020"/><stop offset="0.2608" stop-color="#ff8850"/><stop offset="0.3075" stop-color="#ff6080"/><stop offset="0.3419" stop-color="#ff30d0"/><stop offset="0.3670" stop-color="#ff00ff"/><stop offset="0.8501" stop-color="#ff00ff"/><stop offset="0.8967" stop-color="#ff28d8"/><stop offset="0.9434" stop-color="#ff40b8"/><stop offset="1.0000" stop-color="#ff5890"/></linearGradient><linearGradient id="ta4_0" gradientUnits="userSpaceOnUse" x1="80.8" y1="0" x2="298.7" y2="0"><stop offset="0.0055" stop-color="#ffd800"/><stop offset="0.1340" stop-color="#ffe800"/><stop offset="0.3176" stop-color="#f8f000"/><stop offset="0.4782" stop-color="#d8f018"/><stop offset="0.5929" stop-color="#a8f040"/><stop offset="0.7077" stop-color="#78f070"/><stop offset="0.8224" stop-color="#50f098"/><stop offset="1.0000" stop-color="#38f8c0"/></linearGradient><linearGradient id="ta4_1" gradientUnits="userSpaceOnUse" x1="80.8" y1="0" x2="298.7" y2="0"><stop offset="0.0055" stop-color="#ffc800"/><stop offset="0.1340" stop-color="#ffd800"/><stop offset="0.3176" stop-color="#f8f000"/><stop offset="0.4782" stop-color="#d0f020"/><stop offset="0.5929" stop-color="#a0f048"/><stop offset="0.7077" stop-color="#70f078"/><stop offset="0.8224" stop-color="#50f098"/><stop offset="1.0000" stop-color="#40f8b0"/></linearGradient><linearGradient id="ta4_2" gradientUnits="userSpaceOnUse" x1="80.8" y1="0" x2="298.7" y2="0"><stop offset="0.0055" stop-color="#ffb010"/><stop offset="0.0881" stop-color="#ffc010"/><stop offset="0.2258" stop-color="#ffd800"/><stop offset="0.3635" stop-color="#f0f000"/><stop offset="0.5011" stop-color="#c8f028"/><stop offset="0.6159" stop-color="#98f050"/><stop offset="0.7306" stop-color="#68f080"/><stop offset="0.8683" stop-color="#48f0a0"/><stop offset="1.0000" stop-color="#40f8a8"/></linearGradient><linearGradient id="ba4" gradientUnits="userSpaceOnUse" x1="82" y1="0" x2="298.7" y2="0"><stop offset="0.0000" stop-color="#ff20e0"/><stop offset="0.0231" stop-color="#ff40b8"/><stop offset="0.0554" stop-color="#ff6080"/><stop offset="0.0969" stop-color="#ff8050"/><stop offset="0.1523" stop-color="#ffa030"/><stop offset="0.1984" stop-color="#ffb820"/><stop offset="0.2446" stop-color="#ffcc10"/><stop offset="0.3138" stop-color="#ffe000"/><stop offset="0.3830" stop-color="#f0f000"/><stop offset="0.4338" stop-color="#d0f020"/><stop offset="0.5215" stop-color="#a8f038"/><stop offset="0.6138" stop-color="#80f060"/><stop offset="0.7291" stop-color="#58f090"/><stop offset="0.8676" stop-color="#40f8b0"/><stop offset="1.0000" stop-color="#30f8c0"/></linearGradient><linearGradient id="bs4_0" gradientUnits="userSpaceOnUse" x1="82" y1="0" x2="298.7" y2="0"><stop offset="0.0000" stop-color="#ff50a0"/><stop offset="0.0277" stop-color="#ff9040"/><stop offset="0.0831" stop-color="#ffb020"/><stop offset="0.1754" stop-color="#ffc810"/><stop offset="0.2677" stop-color="#ffd800"/><stop offset="0.3599" stop-color="#f0f000"/><stop offset="0.4522" stop-color="#d0f020"/><stop offset="0.5445" stop-color="#a8f038"/><stop offset="0.6368" stop-color="#80f060"/><stop offset="0.7522" stop-color="#58f090"/><stop offset="0.8676" stop-color="#40f8b0"/><stop offset="1.0000" stop-color="#30f8c0"/></linearGradient><linearGradient id="bs4_1" gradientUnits="userSpaceOnUse" x1="82" y1="0" x2="298.7" y2="0"><stop offset="0.0000" stop-color="#ff20e0"/><stop offset="0.0369" stop-color="#ff5098"/><stop offset="0.0831" stop-color="#ff7860"/><stop offset="0.1523" stop-color="#ff9838"/><stop offset="0.2215" stop-color="#ffb020"/><stop offset="0.3138" stop-color="#ffd000"/><stop offset="0.4061" stop-color="#f0f000"/><stop offset="0.4984" stop-color="#c8f028"/><stop offset="0.5907" stop-color="#98f050"/><stop offset="0.7060" stop-color="#68f080"/><stop offset="0.8445" stop-color="#44f8a8"/><stop offset="1.0000" stop-color="#30f8c0"/></linearGradient><linearGradient id="bs4_2" gradientUnits="userSpaceOnUse" x1="82" y1="0" x2="298.7" y2="0"><stop offset="0.0000" stop-color="#ff10f0"/><stop offset="0.0461" stop-color="#ff38c0"/><stop offset="0.1061" stop-color="#ff6080"/><stop offset="0.1754" stop-color="#ff8850"/><stop offset="0.2677" stop-color="#ffa830"/><stop offset="0.3599" stop-color="#ffc818"/><stop offset="0.4522" stop-color="#f0f000"/><stop offset="0.5445" stop-color="#c0f030"/><stop offset="0.6599" stop-color="#88f060"/><stop offset="0.7983" stop-color="#50f098"/><stop offset="1.0000" stop-color="#30f8c0"/></linearGradient><clipPath id="cba4"><rect x="82" y="222.7" width="216.7" height="38"/></clipPath><filter id="hb4" x="-20%" y="-20%" width="140%" height="140%"><feGaussianBlur stdDeviation="3.5 0"/></filter><filter id="vb4" x="-20%" y="-50%" width="140%" height="200%"><feGaussianBlur stdDeviation="0 3"/></filter><clipPath id="clb4"><rect x="15.5" y="89.3" width="67.1" height="171.4"/></clipPath><clipPath id="cta4"><rect x="80.8" y="97.1" width="217.9" height="38.1"/></clipPath><clipPath id="cvc4"><rect x="82" y="135.2" width="232.6" height="87.5"/></clipPath><linearGradient id="cv4" gradientUnits="userSpaceOnUse" x1="82" y1="0" x2="137.7" y2="0"><stop offset="0" stop-color="#00ffff"/><stop offset="0.42" stop-color="#04fff6"/><stop offset="0.62" stop-color="#1cffd4"/><stop offset="1" stop-color="#38ffb0"/></linearGradient></defs><rect x="0" y="0" width="400" height="400" fill="#00ffff"/><g filter="url(#bl4)"><ellipse cx="50" cy="59.3" rx="62" ry="48" fill="#60f088"/><ellipse cx="60" cy="81.3" rx="40" ry="18" fill="#a0f048"/><rect x="118" y="141.2" width="190" height="75.5" fill="#40ffa8"/><ellipse cx="318" cy="178.9" rx="20" ry="44" fill="#38ffb0" opacity="0.9"/></g><rect x="15.5" y="72.9" width="55" height="16.2" fill="url(#sr4)"/><defs><linearGradient id="sr4" x1="0" x2="1" y1="0" y2="0"><stop offset="0" stop-color="#80f060"/><stop offset="0.7" stop-color="#b0f038"/><stop offset="1" stop-color="#e8f000"/></linearGradient></defs><rect x="82" y="135.2" width="55.7" height="87.5" fill="url(#cv4)"/><rect x="137.7" y="135.2" width="176.9" height="87.5" fill="#48ff96"/><g clip-path="url(#cvc4)"><g filter="url(#bs4)"><ellipse cx="90" cy="137.2" rx="16" ry="14" fill="#a0f048" opacity="0.85"/></g></g><g clip-path="url(#clb4)"><g filter="url(#hb4)"><rect x="3.5" y="89.3" width="20.3" height="171.4" fill="url(#lb4_0)"/><rect x="23.5" y="89.3" width="11.3" height="171.4" fill="url(#lb4_1)"/><rect x="34.5" y="89.3" width="11.3" height="171.4" fill="url(#lb4_2)"/><rect x="45.5" y="89.3" width="11.3" height="171.4" fill="url(#lb4_3)"/><rect x="56.5" y="89.3" width="11.3" height="171.4" fill="url(#lb4_4)"/><rect x="67.5" y="89.3" width="9.3" height="171.4" fill="url(#lb4_5)"/><rect x="76.5" y="89.3" width="17.8" height="171.4" fill="url(#lb4_6)"/></g></g><path d="M73.8 89.3L82.6 89.3L82.6 96.6Z" fill="#b8f040"/><g clip-path="url(#cba4)"><g filter="url(#vb4)"><rect x="82" y="214.7" width="216.7" height="20.3" fill="url(#bs4_0)"/><rect x="82" y="234.7" width="216.7" height="13.3" fill="url(#bs4_1)"/><rect x="82" y="247.7" width="216.7" height="21.3" fill="url(#bs4_2)"/></g></g><g clip-path="url(#cta4)"><g filter="url(#vb4)"><rect x="80.8" y="89.1" width="217.9" height="21.2" fill="url(#ta4_0)"/><rect x="80.8" y="110" width="217.9" height="13.3" fill="url(#ta4_1)"/><rect x="80.8" y="123" width="217.9" height="20.5" fill="url(#ta4_2)"/></g></g><g fill="none" stroke="#06261a" stroke-opacity="0.6" stroke-width="1.05"><path d="M152.2 178.9L154.7 135.2C154.7 133.5 151.3 132.4 145.7 132.4L82.3 132.4C81.2 132.4 80.3 133.3 80.3 134.4L80.3 223.7C80.3 224.8 81.2 225.7 82.3 225.7L145.7 225.7C151.3 225.7 154.7 223.8 154.7 222.7Z"/><path d="M166.1 178.9L168 135.2C168 131.2 160.7 128.8 148.8 128.8L81.4 128.8C79.4 128.8 77.8 130.4 77.8 132.4L77.8 225.2C77.8 227.2 79.4 228.8 81.4 228.8L148.5 228.8C160.6 228.8 168 225 168 222.7Z"/><path d="M178.5 178.9L179.9 135.2C179.9 129 168.7 125.2 150.4 125.2L81 125.2C77.7 125.2 75 127.9 75 131.2L75 226.1C75 229.3 77.7 232 81 232L149.8 232C168.4 232 179.9 226.2 179.9 222.7Z"/><path d="M190.1 178.9L190.9 135.2C190.9 126.7 175.9 121.5 151.3 121.5L80.4 121.5C75.4 121.5 71.4 125.5 71.4 130.5L71.4 226.2C71.4 231.2 75.4 235.2 80.4 235.2L150.3 235.2C175.5 235.2 190.9 227.4 190.9 222.7Z"/><path d="M201.2 178.9L201.5 135.2C201.5 124.4 182.5 117.8 151.6 117.8L79.8 117.8C72.8 117.8 67.2 123.4 67.2 130.4L67.2 225.9C67.2 232.9 72.8 238.5 79.8 238.5L150.3 238.5C182 238.5 201.5 228.7 201.5 222.7Z"/><path d="M211.4 178.9L211.1 135.2C211.1 122.1 188.3 114.1 151 114.1L79 114.1C69.7 114.1 62.2 121.6 62.2 130.9L62.2 225.2C62.2 234.5 69.7 242 79 242L149.3 242C187.6 242 211.1 230 211.1 222.7Z"/><path d="M221.6 178.9L220.8 135.2C220.8 119.8 194 110.4 150.4 110.4L78.1 110.4C65.8 110.4 55.8 120.4 55.8 132.7L55.8 223.1C55.8 235.4 65.8 245.4 78.1 245.4L148.4 245.4C193.3 245.4 220.8 231.3 220.8 222.7Z"/><path d="M231.4 178.9L230 135.2C230 117.5 199.4 106.7 149.5 106.7L74.6 106.7C60.2 106.7 48.6 118.3 48.6 132.7L48.6 222.8C48.6 237.2 60.2 248.8 74.6 248.8L147.1 248.8C198.5 248.8 230 232.6 230 222.7Z"/><path d="M240.6 178.9L238.7 135.2C238.7 115.2 204.2 103 147.9 103L66.8 103C52.4 103 40.8 114.6 40.8 129L40.8 226.3C40.8 240.7 52.4 252.3 66.8 252.3L145.2 252.3C203.1 252.3 238.7 233.9 238.7 222.7Z"/><path d="M249.3 178.9L246.8 135.2C246.8 112.9 208.4 99.3 145.8 99.3L56.5 99.3C42.1 99.3 30.5 110.9 30.5 125.3L30.5 230.2C30.5 244.6 42.1 256.2 56.5 256.2L142.8 256.2C207.3 256.2 246.8 235.4 246.8 222.7Z"/><path d="M253.6 97.1C255.6 112.1 257.6 120.2 257.6 135.2C255.6 160.2 255.6 197.7 257.6 222.7C257.6 237.7 255.6 245.7 253.6 260.7"/><path d="M262.5 97.1C264 112.1 266 120.2 266 135.2C262.7 160.2 262.7 197.7 266 222.7C266 237.7 264 245.7 262.5 260.7"/><path d="M270.4 97.1C271.4 112.1 273.4 120.2 273.4 135.2C268.8 160.2 268.8 197.7 273.4 222.7C273.4 237.7 271.4 245.7 270.4 260.7"/><path d="M278.3 97.1C278.8 112.1 280.8 120.2 280.8 135.2C274.9 160.2 274.9 197.7 280.8 222.7C280.8 237.7 278.8 245.7 278.3 260.7"/><path d="M285.2 97.1C285.2 112.1 287.2 120.2 287.2 135.2C280 160.2 280 197.7 287.2 222.7C287.2 237.7 285.2 245.7 285.2 260.7"/><path d="M291.3 97.1C290.8 112.1 292.8 120.2 292.8 135.2C284.3 160.2 284.3 197.7 292.8 222.7C292.8 237.7 290.8 245.7 291.3 260.7"/><path d="M82 149.2C96 151.2 103 143.2 102 135.2"/><path d="M112 135.2C104 175.2 96 192.7 98 222.7"/><path d="M51.3 89.3C51 60 70 43 100 42"/><path d="M100 42C125 42 146 60 146.4 97.1"/><path d="M70.4 72.9C90 75 104 85 103 97.1"/><path d="M216.7 31V97.1"/><path d="M289 31C280 50 272 75 270 97.1"/><path d="M358 60C330 66 305 82 294 97.1"/><path d="M358 100C335 98 315 100 298.7 104"/><path d="M298.7 125C315 118 335 122 358 134"/><path d="M314.6 135.2C333.6 153.2 333.6 204.7 314.6 222.7"/><path d="M314.6 135.2C303.6 153.2 303.6 204.7 314.6 222.7"/><path d="M314.6 135.2C295.6 153.2 295.6 204.7 314.6 222.7"/><path d="M298.7 127.2C365 117.2 365 240.7 298.7 232.7"/><path d="M140.7 260.7C141 300 142 330 142.6 351"/><path d="M247 260.7C252 300 268 330 283 351"/><path d="M292 260.7C298 290 325 310 358 322"/><path d="M298.7 245C320 250 340 256 358 262"/></g><path d="M15.5 89.3H73.8M73.8 89.3L80.8 96.3M80.8 97.1H298.7V260.7M82 97.1V222.7M90.3 97.1V135.2M82 135.2H314.6M82 222.7H314.6M15.5 260.7H298.7M137.7 135.2V222.7M314.6 135.2V222.7M15.5 72.9H70.4V89.3" fill="none" stroke="#1c70d8" stroke-width="1.1"/><path d="M15.6 30V352" stroke="#1a70c0" stroke-width="1.3" opacity="0.9"/><path d="M72.6 88.1h2.4v2.4h-2.4ZM79.6 95.9h2.4v2.4h-2.4ZM89.1 95.9h2.4v2.4h-2.4ZM89.1 134h2.4v2.4h-2.4ZM80.8 134h2.4v2.4h-2.4ZM136.5 134h2.4v2.4h-2.4ZM136.5 221.5h2.4v2.4h-2.4ZM80.8 221.5h2.4v2.4h-2.4ZM297.5 95.9h2.4v2.4h-2.4ZM297.5 134h2.4v2.4h-2.4ZM313.4 134h2.4v2.4h-2.4ZM313.4 221.5h2.4v2.4h-2.4ZM297.5 221.5h2.4v2.4h-2.4ZM297.5 259.5h2.4v2.4h-2.4ZM14.3 88.1h2.4v2.4h-2.4ZM14.3 259.5h2.4v2.4h-2.4ZM69.2 71.7h2.4v2.4h-2.4ZM69.2 88.1h2.4v2.4h-2.4ZM14.3 71.7h2.4v2.4h-2.4Z" fill="#103058" opacity="0.85"/></svg></div><div class="gp"><svg class="gr" width="599" height="320" viewBox="374 31 599 320"><path d="M469.5 59.5V291.52H943" class="ax"/><path d="M464 59.5H469.5M464 98.17H469.5M464 136.84H469.5M464 175.51H469.5M464 214.18H469.5M464 252.85H469.5M464 291.52H469.5M469.5 291.52V296.02M537.1 291.52V296.02M604.7 291.52V296.02M672.3 291.52V296.02M739.9 291.52V296.02M807.5 291.52V296.02M875.1 291.52V296.02" class="ax"/><text x="458" y="63.7" text-anchor="end">1</text><text x="458" y="102.37" text-anchor="end">0.95</text><text x="458" y="141.04" text-anchor="end">0.9</text><text x="458" y="179.71" text-anchor="end">0.85</text><text x="458" y="218.38" text-anchor="end">0.8</text><text x="458" y="257.05" text-anchor="end">0.75</text><text x="458" y="295.72" text-anchor="end">0.7</text><text x="469.5" y="310.82" text-anchor="middle">0</text><text x="537.1" y="310.82" text-anchor="middle">1</text><text x="604.7" y="310.82" text-anchor="middle">2</text><text x="672.3" y="310.82" text-anchor="middle">3</text><text x="739.9" y="310.82" text-anchor="middle">4</text><text x="807.5" y="310.82" text-anchor="middle">5</text><text x="875.1" y="310.82" text-anchor="middle">6</text><text x="643" y="329.5" text-anchor="middle" letter-spacing="0.55">Length, mm</text><text x="956.3" y="81.6" letter-spacing="1.6">|B|</text><rect x="971.6" y="81" width="1.6" height="2.6" fill="#e0a060"/><polyline points="470.9,227.6 477,207.5 488.5,162.8 492.5,155.1 503.3,133.5 512.5,124.9 521.8,123.6 543.3,120.6 558.8,119 574.2,117.2 605,115 626.6,113.5 635.9,114.1 660.5,118.7 679,120.6 697.5,120.6 722.4,118.3 735.1,116.9 826.3,116.9 836.1,118.3 848.7,115.5 872.6,116.1 883.8,118.3 892.2,127.3 918.9,132.9 931.5,151.4 944.1,185.7" class="cv"/></svg></div><div class="tabbar" style="left:15px;width:343.5px"><div class="tab" style="left:0.5px;width:59px"><b class="ti-fem"><svg width="7" height="9" viewBox="0 0 7 9"><rect x="1" y="0.5" width="5" height="8" rx="1" fill="#2a2a2a"/><path d="M2 2.5h3M2 4.5h3M2 6.5h3" stroke="#999" stroke-width="0.8"/></svg></b><span>FEMM_start.FEM</span></div><div class="tab act" style="left:62px;width:58px"><b class="ti-ans"><svg width="10" height="9" viewBox="0 0 10 9"><path d="M1.2 3.2C1 6.5 3 8.2 4.6 6.4C5.6 5.2 4.4 3.2 5.8 2.2C7.2 1.2 9.2 2 9 4C8.8 6 6.6 6.3 6 5" fill="none" stroke="#3a3a48" stroke-width="1.2"/><path d="M2.6 2.4L3.6 1" stroke="#3a3a48" stroke-width="1"/></svg></b><span>FEMM_start.ans</span></div></div><div class="tabbar" style="left:374px;width:599px"><div class="tab" style="left:2px;width:59px"><b class="ti-fem"><svg width="7" height="9" viewBox="0 0 7 9"><rect x="1" y="0.5" width="5" height="8" rx="1" fill="#2a2a2a"/><path d="M2 2.5h3M2 4.5h3M2 6.5h3" stroke="#999" stroke-width="0.8"/></svg></b><span>FEMM_start.FEM</span></div><div class="tab" style="left:63px;width:56px"><b class="ti-ans"><svg width="10" height="9" viewBox="0 0 10 9"><path d="M1.2 3.2C1 6.5 3 8.2 4.6 6.4C5.6 5.2 4.4 3.2 5.8 2.2C7.2 1.2 9.2 2 9 4C8.8 6 6.6 6.3 6 5" fill="none" stroke="#3a3a48" stroke-width="1.2"/><path d="M2.6 2.4L3.6 1" stroke="#3a3a48" stroke-width="1"/></svg></b><span>FEMM_start.ans</span></div><div class="tab act" style="left:121px;width:54px"><b class="ti-xy"><svg width="9" height="9" viewBox="0 0 9 9"><rect x="0.5" y="0.5" width="8" height="8" fill="#c8d0dc" stroke="#505868"/><path d="M1.5 7.5L3.5 3.5L5.5 5.5L7.5 1.5" fill="none" stroke="#283040" stroke-width="1.2"/></svg></b><span>Без названия</span></div></div><div class="st" style="left:0px">(r=110.3000,z=22.0800)</div><div class="st" style="left:358.8px">(x=8.82059,y=0.989594)</div><div class="tb" style="left:0px;width:358.5px;top:377px"></div><div class="tbs" style="left:0px;top:377px"><i></i><i></i><i></i><i></i></div><div class="tbb" style="left:21.5px;top:377px"><b class="ic-file"></b></div><div class="tbb" style="left:45.3px;top:377px"><b class="ic-opera"></b></div><div class="tbb" style="left:69.1px;top:377px"><b class="ic-media"></b></div><div class="tbb" style="left:92.9px;top:377px"><b class="ic-folder"></b></div><div class="tbb hl" style="left:116.7px;top:377px"><b class="ic-femm"></b></div><div class="tbb" style="left:140.5px;top:377px"><b class="ic-doc"></b></div><div class="tb" style="left:358.5px;width:614.5px;top:377px"></div><div class="tbs" style="left:358.5px;top:377px"><i></i><i></i><i></i><i></i></div><div class="tbb" style="left:380px;top:377px"><b class="ic-file"></b></div><div class="tbb" style="left:403.8px;top:377px"><b class="ic-opera"></b></div><div class="tbb" style="left:427.6px;top:377px"><b class="ic-media"></b></div><div class="tbb" style="left:451.4px;top:377px"><b class="ic-folder"></b></div><div class="tbb hl" style="left:475.2px;top:377px"><b class="ic-femm"></b></div><div class="tbb" style="left:499px;top:377px"><b class="ic-doc"></b></div></div></body></html>
